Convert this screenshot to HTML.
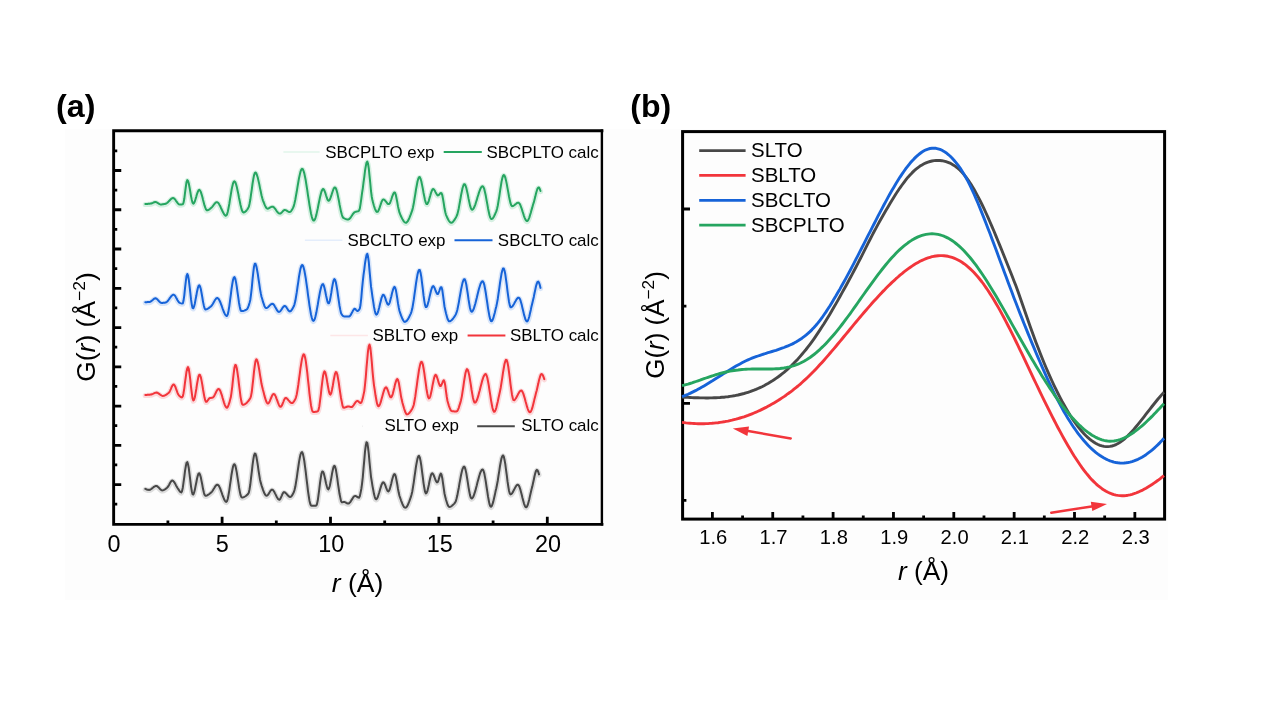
<!DOCTYPE html>
<html><head><meta charset="utf-8"><title>Figure</title>
<style>html,body{margin:0;padding:0;background:#fff;}svg{display:block;}</style></head>
<body>
<svg width="1269" height="714" viewBox="0 0 1269 714" font-family="Liberation Sans, Arial, sans-serif">
<rect width="1269" height="714" fill="#ffffff"/>
<rect x="65" y="129" width="1103" height="471" fill="#fdfdfd"/>
<path d="M145.3 203.9L146.0 203.9L146.8 203.9L147.5 203.9L148.3 203.8L149.0 203.8L149.8 203.7L150.5 203.6L151.3 203.5L152.0 203.2L152.8 202.9L153.5 202.5L154.3 202.2L155.0 202.0L155.8 202.0L156.5 202.3L157.3 202.7L158.0 203.2L158.8 203.7L159.5 204.1L160.3 204.4L161.0 204.4L161.8 204.4L162.5 204.3L163.3 204.2L164.0 204.1L164.8 204.0L165.5 203.8L166.3 203.5L167.0 203.0L167.8 202.4L168.5 201.6L169.3 200.8L170.0 200.0L170.8 199.2L171.5 198.6L172.3 198.2L173.0 198.0L173.8 198.2L174.5 198.8L175.3 199.7L176.0 200.8L176.8 201.9L177.5 202.9L178.3 203.8L179.0 204.4L179.8 204.6L180.5 204.6L181.3 204.5L182.0 204.4L182.8 204.2L183.5 202.9L184.3 198.8L185.0 193.0L185.8 187.0L186.5 182.2L187.3 180.1L188.0 180.9L188.8 183.5L189.5 187.3L190.3 191.7L191.0 196.1L191.8 199.9L192.5 202.6L193.3 203.6L194.0 203.1L194.8 201.5L195.5 199.2L196.3 196.6L197.0 194.1L197.8 191.9L198.5 190.3L199.3 189.8L200.0 190.4L200.8 191.9L201.5 194.1L202.3 196.8L203.0 199.7L203.8 202.7L204.5 205.4L205.3 207.7L206.0 209.4L206.8 210.3L207.5 210.3L208.3 210.0L209.0 209.6L209.8 209.0L210.5 208.4L211.3 207.8L212.0 207.1L212.8 206.2L213.5 205.2L214.3 204.2L215.0 203.3L215.8 202.6L216.5 202.2L217.3 202.2L218.0 202.7L218.8 203.6L219.5 204.9L220.3 206.3L221.0 208.0L221.8 209.7L222.5 211.3L223.3 212.8L224.0 214.1L224.8 215.1L225.5 215.7L226.3 215.6L227.0 214.4L227.8 211.8L228.5 208.2L229.3 204.0L230.0 199.4L230.8 194.7L231.5 190.3L232.3 186.4L233.0 183.5L233.8 181.7L234.5 181.3L235.3 182.2L236.0 184.1L236.8 186.9L237.5 190.2L238.3 193.9L239.0 197.7L239.8 201.5L240.5 205.0L241.3 208.1L242.0 210.5L242.8 212.0L243.5 212.5L244.3 212.3L245.0 211.9L245.8 211.3L246.5 210.5L247.3 209.5L248.0 208.4L248.8 206.9L249.5 204.0L250.3 199.8L251.0 194.7L251.8 189.3L252.5 184.0L253.3 179.2L254.0 175.4L254.8 173.1L255.5 172.5L256.3 173.3L257.0 175.2L257.8 177.8L258.5 180.9L259.3 184.4L260.0 188.1L260.8 191.8L261.5 195.2L262.3 198.2L263.0 200.6L263.8 202.5L264.5 204.4L265.3 206.1L266.0 207.5L266.8 208.4L267.5 208.7L268.3 208.6L269.0 208.2L269.8 207.7L270.5 207.3L271.3 206.9L272.0 206.7L272.8 206.7L273.5 207.1L274.3 207.8L275.0 208.7L275.8 209.7L276.5 210.8L277.3 211.8L278.0 212.7L278.8 213.3L279.5 213.6L280.3 213.6L281.0 213.1L281.8 212.4L282.5 211.6L283.3 210.8L284.0 210.2L284.8 209.9L285.5 210.1L286.3 210.4L287.0 210.8L287.8 211.3L288.5 211.7L289.3 212.0L290.0 212.0L290.8 211.5L291.5 210.5L292.3 209.3L293.0 207.9L293.8 206.0L294.5 203.3L295.3 199.7L296.0 195.7L296.8 191.3L297.5 186.8L298.3 182.3L299.0 178.2L299.8 174.6L300.5 171.7L301.3 169.7L302.0 168.8L302.8 169.2L303.5 170.8L304.3 173.4L305.0 176.8L305.8 180.8L306.5 185.4L307.3 190.3L308.0 195.3L308.8 200.3L309.5 205.1L310.3 209.6L311.0 213.5L311.8 216.8L312.5 219.1L313.3 220.5L314.0 220.6L314.8 219.7L315.5 217.8L316.3 215.1L317.0 211.9L317.8 208.3L318.5 204.5L319.3 200.8L320.0 197.2L320.8 194.1L321.5 191.5L322.3 189.8L323.0 189.0L323.8 189.4L324.5 190.8L325.3 192.9L326.0 195.3L326.8 197.7L327.5 199.6L328.3 200.7L329.0 200.7L329.8 199.7L330.5 197.9L331.3 195.7L332.0 193.3L332.8 191.0L333.5 189.0L334.3 187.7L335.0 187.4L335.8 188.2L336.5 190.1L337.3 192.9L338.0 196.4L338.8 200.2L339.5 204.2L340.3 208.1L341.0 211.6L341.8 214.5L342.5 216.7L343.3 217.8L344.0 218.2L344.8 218.6L345.5 218.9L346.3 219.2L347.0 219.4L347.8 219.5L348.5 219.4L349.3 219.0L350.0 218.3L350.8 217.3L351.5 216.2L352.3 215.0L353.0 213.9L353.8 213.0L354.5 212.3L355.3 211.9L356.0 211.7L356.8 211.6L357.5 211.4L358.3 211.2L359.0 210.7L359.8 208.6L360.5 204.3L361.3 198.8L362.0 193.3L362.8 188.3L363.5 182.7L364.3 176.8L365.0 171.0L365.8 166.1L366.5 162.8L367.3 161.6L368.0 163.5L368.8 168.6L369.5 175.6L370.3 183.5L371.0 191.0L371.8 197.0L372.5 200.6L373.3 203.4L374.0 206.0L374.8 208.3L375.5 210.1L376.3 211.4L377.0 211.9L377.8 211.7L378.5 210.5L379.3 208.7L380.0 206.5L380.8 204.2L381.5 202.0L382.3 200.4L383.0 199.5L383.8 199.5L384.5 199.9L385.3 200.8L386.0 201.7L386.8 202.7L387.5 203.6L388.3 204.1L389.0 204.1L389.8 203.3L390.5 201.6L391.3 199.5L392.0 197.2L392.8 195.1L393.5 193.3L394.3 192.4L395.0 192.7L395.8 194.8L396.5 198.2L397.3 202.3L398.0 206.4L398.8 210.1L399.5 212.7L400.3 214.6L401.0 216.3L401.8 217.9L402.5 219.3L403.3 220.6L404.0 221.6L404.8 222.4L405.5 222.7L406.3 222.7L407.0 222.1L407.8 221.2L408.5 219.8L409.3 218.2L410.0 216.4L410.8 214.4L411.5 212.4L412.3 210.2L413.0 207.2L413.8 203.3L414.5 198.9L415.3 194.2L416.0 189.5L416.8 185.2L417.5 181.5L418.3 178.7L419.0 177.2L419.8 177.1L420.5 178.6L421.3 181.2L422.0 184.6L422.8 188.6L423.5 192.7L424.3 196.6L425.0 200.0L425.8 202.6L426.5 204.0L427.3 204.0L428.0 202.8L428.8 200.8L429.5 198.3L430.3 195.6L431.0 193.0L431.8 190.8L432.5 189.4L433.3 189.0L434.0 189.5L434.8 190.7L435.5 192.2L436.3 193.6L437.0 194.8L437.8 195.4L438.5 195.2L439.3 194.5L440.0 193.6L440.8 192.9L441.5 193.1L442.3 195.2L443.0 198.9L443.8 203.6L444.5 208.3L445.3 212.2L446.0 214.8L446.8 216.6L447.5 218.3L448.3 219.8L449.0 221.0L449.8 222.0L450.5 222.6L451.3 222.8L452.0 222.6L452.8 222.0L453.5 221.2L454.3 220.2L455.0 219.0L455.8 217.8L456.5 216.4L457.3 214.5L458.0 211.7L458.8 208.2L459.5 204.1L460.3 199.8L461.0 195.5L461.8 191.6L462.5 188.2L463.3 185.7L464.0 184.3L464.8 184.2L465.5 185.5L466.3 187.9L467.0 191.0L467.8 194.6L468.5 198.4L469.3 202.1L470.0 205.4L470.8 207.9L471.5 209.4L472.3 209.8L473.0 209.3L473.8 208.1L474.5 206.5L475.3 204.6L476.0 202.3L476.8 199.9L477.5 197.3L478.3 194.9L479.0 192.5L479.8 190.4L480.5 188.6L481.3 187.2L482.0 186.4L482.8 186.2L483.5 187.2L484.3 189.2L485.0 192.2L485.8 195.8L486.5 199.9L487.3 204.1L488.0 208.2L488.8 212.0L489.5 215.2L490.3 217.6L491.0 218.9L491.8 219.0L492.5 218.6L493.3 217.6L494.0 216.4L494.8 214.8L495.5 213.2L496.3 211.4L497.0 209.0L497.8 205.5L498.5 201.2L499.3 196.3L500.0 191.3L500.8 186.4L501.5 181.9L502.3 178.3L503.0 175.9L503.8 175.0L504.5 175.6L505.3 177.5L506.0 180.4L506.8 184.1L507.5 188.2L508.3 192.4L509.0 196.5L509.8 200.2L510.5 203.2L511.3 205.3L512.0 206.2L512.8 206.1L513.5 205.8L514.3 205.2L515.0 204.6L515.8 204.0L516.5 203.4L517.3 202.9L518.0 202.7L518.8 202.8L519.5 203.6L520.3 205.0L521.0 206.9L521.8 209.0L522.5 211.4L523.3 213.8L524.0 216.1L524.8 218.1L525.5 219.7L526.3 220.7L527.0 221.1L527.8 220.6L528.5 219.4L529.3 217.6L530.0 215.3L530.8 212.8L531.5 210.1L532.3 207.4L533.0 204.8L533.8 202.4L534.5 199.7L535.3 196.6L536.0 193.5L536.8 190.7L537.5 188.6L538.3 187.5L539.0 187.6L539.8 189.0L540.5 191.0" fill="none" stroke="#d6f0e2" stroke-width="5.2" stroke-linejoin="round" stroke-linecap="round" transform="translate(0,0.6)"/>
<path d="M145.3 203.9L146.0 203.9L146.8 203.9L147.5 203.9L148.3 203.8L149.0 203.8L149.8 203.7L150.5 203.6L151.3 203.5L152.0 203.2L152.8 202.9L153.5 202.5L154.3 202.2L155.0 202.0L155.8 202.0L156.5 202.3L157.3 202.7L158.0 203.2L158.8 203.7L159.5 204.1L160.3 204.4L161.0 204.4L161.8 204.4L162.5 204.3L163.3 204.2L164.0 204.1L164.8 204.0L165.5 203.8L166.3 203.5L167.0 203.0L167.8 202.4L168.5 201.6L169.3 200.8L170.0 200.0L170.8 199.2L171.5 198.6L172.3 198.2L173.0 198.0L173.8 198.2L174.5 198.8L175.3 199.7L176.0 200.8L176.8 201.9L177.5 202.9L178.3 203.8L179.0 204.4L179.8 204.6L180.5 204.6L181.3 204.5L182.0 204.4L182.8 204.2L183.5 202.9L184.3 198.8L185.0 193.0L185.8 187.0L186.5 182.2L187.3 180.1L188.0 180.9L188.8 183.5L189.5 187.3L190.3 191.7L191.0 196.1L191.8 199.9L192.5 202.6L193.3 203.6L194.0 203.1L194.8 201.5L195.5 199.2L196.3 196.6L197.0 194.1L197.8 191.9L198.5 190.3L199.3 189.8L200.0 190.4L200.8 191.9L201.5 194.1L202.3 196.8L203.0 199.7L203.8 202.7L204.5 205.4L205.3 207.7L206.0 209.4L206.8 210.3L207.5 210.3L208.3 210.0L209.0 209.6L209.8 209.0L210.5 208.4L211.3 207.8L212.0 207.1L212.8 206.2L213.5 205.2L214.3 204.2L215.0 203.3L215.8 202.6L216.5 202.2L217.3 202.2L218.0 202.7L218.8 203.6L219.5 204.9L220.3 206.3L221.0 208.0L221.8 209.7L222.5 211.3L223.3 212.8L224.0 214.1L224.8 215.1L225.5 215.7L226.3 215.6L227.0 214.4L227.8 211.8L228.5 208.2L229.3 204.0L230.0 199.4L230.8 194.7L231.5 190.3L232.3 186.4L233.0 183.5L233.8 181.7L234.5 181.3L235.3 182.2L236.0 184.1L236.8 186.9L237.5 190.2L238.3 193.9L239.0 197.7L239.8 201.5L240.5 205.0L241.3 208.1L242.0 210.5L242.8 212.0L243.5 212.5L244.3 212.3L245.0 211.9L245.8 211.3L246.5 210.5L247.3 209.5L248.0 208.4L248.8 206.9L249.5 204.0L250.3 199.8L251.0 194.7L251.8 189.3L252.5 184.0L253.3 179.2L254.0 175.4L254.8 173.1L255.5 172.5L256.3 173.3L257.0 175.2L257.8 177.8L258.5 180.9L259.3 184.4L260.0 188.1L260.8 191.8L261.5 195.2L262.3 198.2L263.0 200.6L263.8 202.5L264.5 204.4L265.3 206.1L266.0 207.5L266.8 208.4L267.5 208.7L268.3 208.6L269.0 208.2L269.8 207.7L270.5 207.3L271.3 206.9L272.0 206.7L272.8 206.7L273.5 207.1L274.3 207.8L275.0 208.7L275.8 209.7L276.5 210.8L277.3 211.8L278.0 212.7L278.8 213.3L279.5 213.6L280.3 213.6L281.0 213.1L281.8 212.4L282.5 211.6L283.3 210.8L284.0 210.2L284.8 209.9L285.5 210.1L286.3 210.4L287.0 210.8L287.8 211.3L288.5 211.7L289.3 212.0L290.0 212.0L290.8 211.5L291.5 210.5L292.3 209.3L293.0 207.9L293.8 206.0L294.5 203.3L295.3 199.7L296.0 195.7L296.8 191.3L297.5 186.8L298.3 182.3L299.0 178.2L299.8 174.6L300.5 171.7L301.3 169.7L302.0 168.8L302.8 169.2L303.5 170.8L304.3 173.4L305.0 176.8L305.8 180.8L306.5 185.4L307.3 190.3L308.0 195.3L308.8 200.3L309.5 205.1L310.3 209.6L311.0 213.5L311.8 216.8L312.5 219.1L313.3 220.5L314.0 220.6L314.8 219.7L315.5 217.8L316.3 215.1L317.0 211.9L317.8 208.3L318.5 204.5L319.3 200.8L320.0 197.2L320.8 194.1L321.5 191.5L322.3 189.8L323.0 189.0L323.8 189.4L324.5 190.8L325.3 192.9L326.0 195.3L326.8 197.7L327.5 199.6L328.3 200.7L329.0 200.7L329.8 199.7L330.5 197.9L331.3 195.7L332.0 193.3L332.8 191.0L333.5 189.0L334.3 187.7L335.0 187.4L335.8 188.2L336.5 190.1L337.3 192.9L338.0 196.4L338.8 200.2L339.5 204.2L340.3 208.1L341.0 211.6L341.8 214.5L342.5 216.7L343.3 217.8L344.0 218.2L344.8 218.6L345.5 218.9L346.3 219.2L347.0 219.4L347.8 219.5L348.5 219.4L349.3 219.0L350.0 218.3L350.8 217.3L351.5 216.2L352.3 215.0L353.0 213.9L353.8 213.0L354.5 212.3L355.3 211.9L356.0 211.7L356.8 211.6L357.5 211.4L358.3 211.2L359.0 210.7L359.8 208.6L360.5 204.3L361.3 198.8L362.0 193.3L362.8 188.3L363.5 182.7L364.3 176.8L365.0 171.0L365.8 166.1L366.5 162.8L367.3 161.6L368.0 163.5L368.8 168.6L369.5 175.6L370.3 183.5L371.0 191.0L371.8 197.0L372.5 200.6L373.3 203.4L374.0 206.0L374.8 208.3L375.5 210.1L376.3 211.4L377.0 211.9L377.8 211.7L378.5 210.5L379.3 208.7L380.0 206.5L380.8 204.2L381.5 202.0L382.3 200.4L383.0 199.5L383.8 199.5L384.5 199.9L385.3 200.8L386.0 201.7L386.8 202.7L387.5 203.6L388.3 204.1L389.0 204.1L389.8 203.3L390.5 201.6L391.3 199.5L392.0 197.2L392.8 195.1L393.5 193.3L394.3 192.4L395.0 192.7L395.8 194.8L396.5 198.2L397.3 202.3L398.0 206.4L398.8 210.1L399.5 212.7L400.3 214.6L401.0 216.3L401.8 217.9L402.5 219.3L403.3 220.6L404.0 221.6L404.8 222.4L405.5 222.7L406.3 222.7L407.0 222.1L407.8 221.2L408.5 219.8L409.3 218.2L410.0 216.4L410.8 214.4L411.5 212.4L412.3 210.2L413.0 207.2L413.8 203.3L414.5 198.9L415.3 194.2L416.0 189.5L416.8 185.2L417.5 181.5L418.3 178.7L419.0 177.2L419.8 177.1L420.5 178.6L421.3 181.2L422.0 184.6L422.8 188.6L423.5 192.7L424.3 196.6L425.0 200.0L425.8 202.6L426.5 204.0L427.3 204.0L428.0 202.8L428.8 200.8L429.5 198.3L430.3 195.6L431.0 193.0L431.8 190.8L432.5 189.4L433.3 189.0L434.0 189.5L434.8 190.7L435.5 192.2L436.3 193.6L437.0 194.8L437.8 195.4L438.5 195.2L439.3 194.5L440.0 193.6L440.8 192.9L441.5 193.1L442.3 195.2L443.0 198.9L443.8 203.6L444.5 208.3L445.3 212.2L446.0 214.8L446.8 216.6L447.5 218.3L448.3 219.8L449.0 221.0L449.8 222.0L450.5 222.6L451.3 222.8L452.0 222.6L452.8 222.0L453.5 221.2L454.3 220.2L455.0 219.0L455.8 217.8L456.5 216.4L457.3 214.5L458.0 211.7L458.8 208.2L459.5 204.1L460.3 199.8L461.0 195.5L461.8 191.6L462.5 188.2L463.3 185.7L464.0 184.3L464.8 184.2L465.5 185.5L466.3 187.9L467.0 191.0L467.8 194.6L468.5 198.4L469.3 202.1L470.0 205.4L470.8 207.9L471.5 209.4L472.3 209.8L473.0 209.3L473.8 208.1L474.5 206.5L475.3 204.6L476.0 202.3L476.8 199.9L477.5 197.3L478.3 194.9L479.0 192.5L479.8 190.4L480.5 188.6L481.3 187.2L482.0 186.4L482.8 186.2L483.5 187.2L484.3 189.2L485.0 192.2L485.8 195.8L486.5 199.9L487.3 204.1L488.0 208.2L488.8 212.0L489.5 215.2L490.3 217.6L491.0 218.9L491.8 219.0L492.5 218.6L493.3 217.6L494.0 216.4L494.8 214.8L495.5 213.2L496.3 211.4L497.0 209.0L497.8 205.5L498.5 201.2L499.3 196.3L500.0 191.3L500.8 186.4L501.5 181.9L502.3 178.3L503.0 175.9L503.8 175.0L504.5 175.6L505.3 177.5L506.0 180.4L506.8 184.1L507.5 188.2L508.3 192.4L509.0 196.5L509.8 200.2L510.5 203.2L511.3 205.3L512.0 206.2L512.8 206.1L513.5 205.8L514.3 205.2L515.0 204.6L515.8 204.0L516.5 203.4L517.3 202.9L518.0 202.7L518.8 202.8L519.5 203.6L520.3 205.0L521.0 206.9L521.8 209.0L522.5 211.4L523.3 213.8L524.0 216.1L524.8 218.1L525.5 219.7L526.3 220.7L527.0 221.1L527.8 220.6L528.5 219.4L529.3 217.6L530.0 215.3L530.8 212.8L531.5 210.1L532.3 207.4L533.0 204.8L533.8 202.4L534.5 199.7L535.3 196.6L536.0 193.5L536.8 190.7L537.5 188.6L538.3 187.5L539.0 187.6L539.8 189.0L540.5 191.0" fill="none" stroke="#26a560" stroke-width="2" stroke-linejoin="round" stroke-linecap="round"/>
<path d="M145.3 302.2L146.0 302.2L146.8 302.2L147.5 302.1L148.3 302.1L149.0 302.0L149.8 301.9L150.5 301.7L151.3 301.2L152.0 300.6L152.8 299.9L153.5 299.2L154.3 298.6L155.0 298.3L155.8 298.3L156.5 298.7L157.3 299.3L158.0 300.1L158.8 301.0L159.5 301.7L160.3 302.4L161.0 302.8L161.8 302.9L162.5 302.9L163.3 302.8L164.0 302.7L164.8 302.7L165.5 302.6L166.3 302.3L167.0 301.8L167.8 301.0L168.5 300.0L169.3 298.9L170.0 297.8L170.8 296.8L171.5 295.9L172.3 295.2L173.0 294.7L173.8 294.7L174.5 295.2L175.3 296.1L176.0 297.4L176.8 298.8L177.5 300.2L178.3 301.4L179.0 302.3L179.8 302.8L180.5 303.1L181.3 303.4L182.0 303.6L182.8 303.4L183.5 300.8L184.3 295.3L185.0 288.3L185.8 281.5L186.5 276.2L187.3 274.0L188.0 275.4L188.8 279.7L189.5 285.7L190.3 292.6L191.0 299.2L191.8 304.6L192.5 307.9L193.3 308.3L194.0 306.7L194.8 303.7L195.5 299.9L196.3 295.8L197.0 291.7L197.8 288.3L198.5 286.0L199.3 285.2L200.0 286.3L200.8 289.0L201.5 292.8L202.3 297.2L203.0 301.6L203.8 305.4L204.5 308.1L205.3 309.4L206.0 309.4L206.8 309.2L207.5 308.8L208.3 308.4L209.0 307.9L209.8 307.3L210.5 306.7L211.3 306.1L212.0 305.2L212.8 304.0L213.5 302.7L214.3 301.3L215.0 300.0L215.8 299.0L216.5 298.2L217.3 298.0L218.0 298.3L218.8 299.2L219.5 300.5L220.3 302.2L221.0 304.1L221.8 306.2L222.5 308.3L223.3 310.4L224.0 312.3L224.8 313.9L225.5 315.1L226.3 315.9L227.0 315.9L227.8 314.3L228.5 311.0L229.3 306.3L230.0 300.8L230.8 294.9L231.5 289.2L232.3 284.0L233.0 280.0L233.8 277.5L234.5 277.1L235.3 278.7L236.0 282.1L236.8 286.8L237.5 292.1L238.3 297.6L239.0 302.7L239.8 307.0L240.5 309.9L241.3 311.1L242.0 311.1L242.8 311.0L243.5 310.9L244.3 310.6L245.0 310.3L245.8 310.0L246.5 309.6L247.3 308.9L248.0 307.5L248.8 305.4L249.5 303.0L250.3 299.9L251.0 294.7L251.8 287.6L252.5 279.8L253.3 272.4L254.0 266.7L254.8 263.7L255.5 263.8L256.3 266.0L257.0 269.5L257.8 274.0L258.5 279.0L259.3 284.2L260.0 289.1L260.8 293.4L261.5 296.7L262.3 299.3L263.0 301.9L263.8 304.2L264.5 306.2L265.3 307.5L266.0 308.1L266.8 308.0L267.5 307.6L268.3 306.9L269.0 306.2L269.8 305.4L270.5 304.7L271.3 304.1L272.0 303.8L272.8 303.9L273.5 304.4L274.3 305.4L275.0 306.7L275.8 308.0L276.5 309.4L277.3 310.6L278.0 311.5L278.8 311.9L279.5 311.8L280.3 311.2L281.0 310.2L281.8 309.1L282.5 307.9L283.3 306.9L284.0 306.2L284.8 305.9L285.5 306.3L286.3 307.1L287.0 308.3L287.8 309.5L288.5 310.6L289.3 311.3L290.0 311.4L290.8 311.0L291.5 310.2L292.3 309.1L293.0 307.8L293.8 306.3L294.5 304.3L295.3 301.1L296.0 297.0L296.8 292.2L297.5 287.0L298.3 281.8L299.0 276.7L299.8 272.3L300.5 268.6L301.3 266.1L302.0 265.0L302.8 265.4L303.5 267.2L304.3 270.2L305.0 274.0L305.8 278.6L306.5 283.7L307.3 289.2L308.0 294.8L308.8 300.3L309.5 305.6L310.3 310.4L311.0 314.5L311.8 317.8L312.5 320.0L313.3 320.9L314.0 320.5L314.8 318.9L315.5 316.2L316.3 312.8L317.0 308.8L317.8 304.5L318.5 300.1L319.3 295.8L320.0 291.9L320.8 288.5L321.5 285.9L322.3 284.4L323.0 284.1L323.8 285.4L324.5 288.0L325.3 291.5L326.0 295.2L326.8 298.8L327.5 301.7L328.3 303.3L329.0 303.2L329.8 301.0L330.5 297.4L331.3 292.9L332.0 288.2L332.8 283.9L333.5 280.7L334.3 279.1L335.0 279.7L335.8 282.0L336.5 285.7L337.3 290.4L338.0 295.5L338.8 300.8L339.5 305.7L340.3 309.9L341.0 313.0L341.8 314.6L342.5 315.5L343.3 316.1L344.0 316.4L344.8 316.5L345.5 316.5L346.3 316.5L347.0 316.5L347.8 316.5L348.5 316.5L349.3 316.4L350.0 315.9L350.8 314.8L351.5 313.5L352.3 312.0L353.0 310.6L353.8 309.5L354.5 308.8L355.3 308.9L356.0 309.8L356.8 310.7L357.5 311.1L358.3 310.7L359.0 309.9L359.8 308.6L360.5 305.0L361.3 298.0L362.0 289.4L362.8 281.4L363.5 275.2L364.3 269.3L365.0 263.5L365.8 258.6L366.5 255.1L367.3 253.9L368.0 256.3L368.8 262.2L369.5 270.3L370.3 278.9L371.0 286.4L371.8 292.0L372.5 297.1L373.3 302.2L374.0 306.9L374.8 310.7L375.5 313.4L376.3 314.6L377.0 314.2L377.8 312.6L378.5 310.2L379.3 307.2L380.0 304.0L380.8 300.9L381.5 298.1L382.3 296.0L383.0 294.8L383.8 294.9L384.5 296.2L385.3 298.1L386.0 300.4L386.8 302.5L387.5 304.1L388.3 304.7L389.0 304.1L389.8 302.3L390.5 299.6L391.3 296.5L392.0 293.3L392.8 290.4L393.5 288.2L394.3 286.9L395.0 287.3L395.8 289.7L396.5 293.7L397.3 298.5L398.0 303.4L398.8 307.8L399.5 311.0L400.3 313.3L401.0 315.4L401.8 317.4L402.5 319.1L403.3 320.5L404.0 321.5L404.8 321.9L405.5 321.7L406.3 321.2L407.0 320.5L407.8 319.4L408.5 318.2L409.3 316.8L410.0 315.2L410.8 313.6L411.5 311.6L412.3 308.6L413.0 304.5L413.8 299.7L414.5 294.3L415.3 288.9L416.0 283.5L416.8 278.7L417.5 274.6L418.3 271.5L419.0 269.9L419.8 270.0L420.5 272.5L421.3 276.9L422.0 282.6L422.8 288.9L423.5 295.2L424.3 300.8L425.0 304.9L425.8 307.1L426.5 307.1L427.3 305.7L428.0 303.3L428.8 300.4L429.5 297.1L430.3 293.7L431.0 290.7L431.8 288.2L432.5 286.6L433.3 286.1L434.0 286.9L434.8 288.5L435.5 290.5L436.3 292.4L437.0 293.8L437.8 294.1L438.5 293.0L439.3 291.0L440.0 288.8L440.8 287.2L441.5 287.2L442.3 290.1L443.0 295.2L443.8 301.2L444.5 306.5L445.3 310.3L446.0 313.3L446.8 316.2L447.5 318.7L448.3 320.4L449.0 321.3L449.8 321.3L450.5 321.0L451.3 320.5L452.0 319.8L452.8 319.0L453.5 318.0L454.3 316.9L455.0 315.7L455.8 314.5L456.5 312.7L457.3 310.0L458.0 306.6L458.8 302.6L459.5 298.4L460.3 294.0L461.0 289.9L461.8 286.1L462.5 282.9L463.3 280.5L464.0 279.2L464.8 279.3L465.5 281.2L466.3 284.5L467.0 289.0L467.8 294.0L468.5 299.2L469.3 304.0L470.0 308.0L470.8 310.8L471.5 311.8L472.3 311.5L473.0 310.4L473.8 308.7L474.5 306.4L475.3 303.8L476.0 300.9L476.8 297.8L477.5 294.7L478.3 291.6L479.0 288.7L479.8 286.2L480.5 284.0L481.3 282.4L482.0 281.4L482.8 281.2L483.5 282.4L484.3 284.9L485.0 288.5L485.8 293.0L486.5 297.9L487.3 303.0L488.0 308.1L488.8 312.7L489.5 316.6L490.3 319.5L491.0 321.1L491.8 321.2L492.5 320.1L493.3 318.2L494.0 315.6L494.8 312.7L495.5 309.6L496.3 306.5L497.0 303.1L497.8 298.7L498.5 293.7L499.3 288.4L500.0 283.0L500.8 278.1L501.5 273.8L502.3 270.5L503.0 268.6L503.8 268.5L504.5 270.5L505.3 274.3L506.0 279.3L506.8 285.1L507.5 291.1L508.3 296.8L509.0 301.7L509.8 305.4L510.5 307.2L511.3 307.3L512.0 306.8L512.8 305.9L513.5 304.7L514.3 303.4L515.0 302.0L515.8 300.7L516.5 299.4L517.3 298.5L518.0 297.8L518.8 297.7L519.5 298.3L520.3 299.9L521.0 302.2L521.8 305.1L522.5 308.2L523.3 311.5L524.0 314.6L524.8 317.3L525.5 319.6L526.3 321.0L527.0 321.5L527.8 320.8L528.5 319.0L529.3 316.5L530.0 313.3L530.8 309.9L531.5 306.4L532.3 303.2L533.0 300.2L533.8 296.9L534.5 293.3L535.3 289.6L536.0 286.3L536.8 283.6L537.5 281.9L538.3 281.6L539.0 282.7L539.8 285.0L540.5 287.9" fill="none" stroke="#d8e5f9" stroke-width="5.2" stroke-linejoin="round" stroke-linecap="round" transform="translate(0,0.6)"/>
<path d="M145.3 302.2L146.0 302.2L146.8 302.2L147.5 302.1L148.3 302.1L149.0 302.0L149.8 301.9L150.5 301.7L151.3 301.2L152.0 300.6L152.8 299.9L153.5 299.2L154.3 298.6L155.0 298.3L155.8 298.3L156.5 298.7L157.3 299.3L158.0 300.1L158.8 301.0L159.5 301.7L160.3 302.4L161.0 302.8L161.8 302.9L162.5 302.9L163.3 302.8L164.0 302.7L164.8 302.7L165.5 302.6L166.3 302.3L167.0 301.8L167.8 301.0L168.5 300.0L169.3 298.9L170.0 297.8L170.8 296.8L171.5 295.9L172.3 295.2L173.0 294.7L173.8 294.7L174.5 295.2L175.3 296.1L176.0 297.4L176.8 298.8L177.5 300.2L178.3 301.4L179.0 302.3L179.8 302.8L180.5 303.1L181.3 303.4L182.0 303.6L182.8 303.4L183.5 300.8L184.3 295.3L185.0 288.3L185.8 281.5L186.5 276.2L187.3 274.0L188.0 275.4L188.8 279.7L189.5 285.7L190.3 292.6L191.0 299.2L191.8 304.6L192.5 307.9L193.3 308.3L194.0 306.7L194.8 303.7L195.5 299.9L196.3 295.8L197.0 291.7L197.8 288.3L198.5 286.0L199.3 285.2L200.0 286.3L200.8 289.0L201.5 292.8L202.3 297.2L203.0 301.6L203.8 305.4L204.5 308.1L205.3 309.4L206.0 309.4L206.8 309.2L207.5 308.8L208.3 308.4L209.0 307.9L209.8 307.3L210.5 306.7L211.3 306.1L212.0 305.2L212.8 304.0L213.5 302.7L214.3 301.3L215.0 300.0L215.8 299.0L216.5 298.2L217.3 298.0L218.0 298.3L218.8 299.2L219.5 300.5L220.3 302.2L221.0 304.1L221.8 306.2L222.5 308.3L223.3 310.4L224.0 312.3L224.8 313.9L225.5 315.1L226.3 315.9L227.0 315.9L227.8 314.3L228.5 311.0L229.3 306.3L230.0 300.8L230.8 294.9L231.5 289.2L232.3 284.0L233.0 280.0L233.8 277.5L234.5 277.1L235.3 278.7L236.0 282.1L236.8 286.8L237.5 292.1L238.3 297.6L239.0 302.7L239.8 307.0L240.5 309.9L241.3 311.1L242.0 311.1L242.8 311.0L243.5 310.9L244.3 310.6L245.0 310.3L245.8 310.0L246.5 309.6L247.3 308.9L248.0 307.5L248.8 305.4L249.5 303.0L250.3 299.9L251.0 294.7L251.8 287.6L252.5 279.8L253.3 272.4L254.0 266.7L254.8 263.7L255.5 263.8L256.3 266.0L257.0 269.5L257.8 274.0L258.5 279.0L259.3 284.2L260.0 289.1L260.8 293.4L261.5 296.7L262.3 299.3L263.0 301.9L263.8 304.2L264.5 306.2L265.3 307.5L266.0 308.1L266.8 308.0L267.5 307.6L268.3 306.9L269.0 306.2L269.8 305.4L270.5 304.7L271.3 304.1L272.0 303.8L272.8 303.9L273.5 304.4L274.3 305.4L275.0 306.7L275.8 308.0L276.5 309.4L277.3 310.6L278.0 311.5L278.8 311.9L279.5 311.8L280.3 311.2L281.0 310.2L281.8 309.1L282.5 307.9L283.3 306.9L284.0 306.2L284.8 305.9L285.5 306.3L286.3 307.1L287.0 308.3L287.8 309.5L288.5 310.6L289.3 311.3L290.0 311.4L290.8 311.0L291.5 310.2L292.3 309.1L293.0 307.8L293.8 306.3L294.5 304.3L295.3 301.1L296.0 297.0L296.8 292.2L297.5 287.0L298.3 281.8L299.0 276.7L299.8 272.3L300.5 268.6L301.3 266.1L302.0 265.0L302.8 265.4L303.5 267.2L304.3 270.2L305.0 274.0L305.8 278.6L306.5 283.7L307.3 289.2L308.0 294.8L308.8 300.3L309.5 305.6L310.3 310.4L311.0 314.5L311.8 317.8L312.5 320.0L313.3 320.9L314.0 320.5L314.8 318.9L315.5 316.2L316.3 312.8L317.0 308.8L317.8 304.5L318.5 300.1L319.3 295.8L320.0 291.9L320.8 288.5L321.5 285.9L322.3 284.4L323.0 284.1L323.8 285.4L324.5 288.0L325.3 291.5L326.0 295.2L326.8 298.8L327.5 301.7L328.3 303.3L329.0 303.2L329.8 301.0L330.5 297.4L331.3 292.9L332.0 288.2L332.8 283.9L333.5 280.7L334.3 279.1L335.0 279.7L335.8 282.0L336.5 285.7L337.3 290.4L338.0 295.5L338.8 300.8L339.5 305.7L340.3 309.9L341.0 313.0L341.8 314.6L342.5 315.5L343.3 316.1L344.0 316.4L344.8 316.5L345.5 316.5L346.3 316.5L347.0 316.5L347.8 316.5L348.5 316.5L349.3 316.4L350.0 315.9L350.8 314.8L351.5 313.5L352.3 312.0L353.0 310.6L353.8 309.5L354.5 308.8L355.3 308.9L356.0 309.8L356.8 310.7L357.5 311.1L358.3 310.7L359.0 309.9L359.8 308.6L360.5 305.0L361.3 298.0L362.0 289.4L362.8 281.4L363.5 275.2L364.3 269.3L365.0 263.5L365.8 258.6L366.5 255.1L367.3 253.9L368.0 256.3L368.8 262.2L369.5 270.3L370.3 278.9L371.0 286.4L371.8 292.0L372.5 297.1L373.3 302.2L374.0 306.9L374.8 310.7L375.5 313.4L376.3 314.6L377.0 314.2L377.8 312.6L378.5 310.2L379.3 307.2L380.0 304.0L380.8 300.9L381.5 298.1L382.3 296.0L383.0 294.8L383.8 294.9L384.5 296.2L385.3 298.1L386.0 300.4L386.8 302.5L387.5 304.1L388.3 304.7L389.0 304.1L389.8 302.3L390.5 299.6L391.3 296.5L392.0 293.3L392.8 290.4L393.5 288.2L394.3 286.9L395.0 287.3L395.8 289.7L396.5 293.7L397.3 298.5L398.0 303.4L398.8 307.8L399.5 311.0L400.3 313.3L401.0 315.4L401.8 317.4L402.5 319.1L403.3 320.5L404.0 321.5L404.8 321.9L405.5 321.7L406.3 321.2L407.0 320.5L407.8 319.4L408.5 318.2L409.3 316.8L410.0 315.2L410.8 313.6L411.5 311.6L412.3 308.6L413.0 304.5L413.8 299.7L414.5 294.3L415.3 288.9L416.0 283.5L416.8 278.7L417.5 274.6L418.3 271.5L419.0 269.9L419.8 270.0L420.5 272.5L421.3 276.9L422.0 282.6L422.8 288.9L423.5 295.2L424.3 300.8L425.0 304.9L425.8 307.1L426.5 307.1L427.3 305.7L428.0 303.3L428.8 300.4L429.5 297.1L430.3 293.7L431.0 290.7L431.8 288.2L432.5 286.6L433.3 286.1L434.0 286.9L434.8 288.5L435.5 290.5L436.3 292.4L437.0 293.8L437.8 294.1L438.5 293.0L439.3 291.0L440.0 288.8L440.8 287.2L441.5 287.2L442.3 290.1L443.0 295.2L443.8 301.2L444.5 306.5L445.3 310.3L446.0 313.3L446.8 316.2L447.5 318.7L448.3 320.4L449.0 321.3L449.8 321.3L450.5 321.0L451.3 320.5L452.0 319.8L452.8 319.0L453.5 318.0L454.3 316.9L455.0 315.7L455.8 314.5L456.5 312.7L457.3 310.0L458.0 306.6L458.8 302.6L459.5 298.4L460.3 294.0L461.0 289.9L461.8 286.1L462.5 282.9L463.3 280.5L464.0 279.2L464.8 279.3L465.5 281.2L466.3 284.5L467.0 289.0L467.8 294.0L468.5 299.2L469.3 304.0L470.0 308.0L470.8 310.8L471.5 311.8L472.3 311.5L473.0 310.4L473.8 308.7L474.5 306.4L475.3 303.8L476.0 300.9L476.8 297.8L477.5 294.7L478.3 291.6L479.0 288.7L479.8 286.2L480.5 284.0L481.3 282.4L482.0 281.4L482.8 281.2L483.5 282.4L484.3 284.9L485.0 288.5L485.8 293.0L486.5 297.9L487.3 303.0L488.0 308.1L488.8 312.7L489.5 316.6L490.3 319.5L491.0 321.1L491.8 321.2L492.5 320.1L493.3 318.2L494.0 315.6L494.8 312.7L495.5 309.6L496.3 306.5L497.0 303.1L497.8 298.7L498.5 293.7L499.3 288.4L500.0 283.0L500.8 278.1L501.5 273.8L502.3 270.5L503.0 268.6L503.8 268.5L504.5 270.5L505.3 274.3L506.0 279.3L506.8 285.1L507.5 291.1L508.3 296.8L509.0 301.7L509.8 305.4L510.5 307.2L511.3 307.3L512.0 306.8L512.8 305.9L513.5 304.7L514.3 303.4L515.0 302.0L515.8 300.7L516.5 299.4L517.3 298.5L518.0 297.8L518.8 297.7L519.5 298.3L520.3 299.9L521.0 302.2L521.8 305.1L522.5 308.2L523.3 311.5L524.0 314.6L524.8 317.3L525.5 319.6L526.3 321.0L527.0 321.5L527.8 320.8L528.5 319.0L529.3 316.5L530.0 313.3L530.8 309.9L531.5 306.4L532.3 303.2L533.0 300.2L533.8 296.9L534.5 293.3L535.3 289.6L536.0 286.3L536.8 283.6L537.5 281.9L538.3 281.6L539.0 282.7L539.8 285.0L540.5 287.9" fill="none" stroke="#1663d8" stroke-width="2" stroke-linejoin="round" stroke-linecap="round"/>
<path d="M145.3 394.9L146.0 394.9L146.8 394.9L147.5 394.8L148.3 394.8L149.0 394.7L149.8 394.7L150.5 394.6L151.3 394.5L152.0 394.2L152.8 393.9L153.5 393.6L154.3 393.2L155.0 392.9L155.8 392.7L156.5 392.6L157.3 392.7L158.0 393.1L158.8 393.6L159.5 394.1L160.3 394.7L161.0 395.2L161.8 395.6L162.5 395.9L163.3 395.9L164.0 395.7L164.8 395.5L165.5 395.1L166.3 394.6L167.0 394.1L167.8 393.5L168.5 392.9L169.3 392.2L170.0 390.9L170.8 389.1L171.5 387.3L172.3 385.7L173.0 384.7L173.8 384.5L174.5 385.2L175.3 386.7L176.0 388.7L176.8 390.8L177.5 392.9L178.3 394.5L179.0 395.5L179.8 396.2L180.5 396.9L181.3 397.3L182.0 397.4L182.8 396.4L183.5 393.2L184.3 388.3L185.0 382.5L185.8 376.8L186.5 371.7L187.3 368.2L188.0 367.1L188.8 369.0L189.5 373.7L190.3 379.9L191.0 386.8L191.8 393.2L192.5 398.1L193.3 400.5L194.0 400.0L194.8 397.5L195.5 393.6L196.3 389.0L197.0 384.2L197.8 379.9L198.5 376.5L199.3 374.7L200.0 375.0L200.8 377.0L201.5 380.4L202.3 384.6L203.0 389.2L203.8 393.7L204.5 397.6L205.3 400.5L206.0 401.8L206.8 401.7L207.5 400.7L208.3 399.6L209.0 398.6L209.8 398.1L210.5 398.0L211.3 397.9L212.0 397.7L212.8 397.5L213.5 396.9L214.3 395.8L215.0 394.4L215.8 392.7L216.5 391.2L217.3 389.9L218.0 389.1L218.8 388.9L219.5 389.5L220.3 390.9L221.0 392.8L221.8 395.1L222.5 397.6L223.3 400.2L224.0 402.6L224.8 404.8L225.5 406.4L226.3 407.5L227.0 407.7L227.8 406.9L228.5 405.2L229.3 402.9L230.0 400.3L230.8 397.3L231.5 392.7L232.3 386.4L233.0 379.3L233.8 372.7L234.5 367.5L235.3 364.9L236.0 365.4L236.8 368.2L237.5 372.8L238.3 378.4L239.0 384.7L239.8 390.9L240.5 396.6L241.3 401.1L242.0 403.9L242.8 404.8L243.5 404.7L244.3 404.5L245.0 404.1L245.8 403.6L246.5 403.0L247.3 402.2L248.0 401.4L248.8 400.5L249.5 399.4L250.3 398.2L251.0 396.1L251.8 391.8L252.5 385.7L253.3 378.7L254.0 371.6L254.8 365.5L255.5 361.1L256.3 359.3L257.0 360.0L257.8 362.3L258.5 365.8L259.3 370.2L260.0 374.8L260.8 379.5L261.5 383.8L262.3 387.3L263.0 390.1L263.8 393.0L264.5 395.9L265.3 398.6L266.0 400.8L266.8 402.5L267.5 403.5L268.3 403.5L269.0 402.6L269.8 401.2L270.5 399.4L271.3 397.5L272.0 395.8L272.8 394.5L273.5 393.9L274.3 394.1L275.0 395.1L275.8 396.6L276.5 398.6L277.3 400.7L278.0 402.7L278.8 404.6L279.5 406.0L280.3 406.8L281.0 406.7L281.8 405.7L282.5 404.0L283.3 402.0L284.0 400.1L284.8 398.6L285.5 398.0L286.3 398.1L287.0 398.6L287.8 399.4L288.5 400.3L289.3 401.2L290.0 402.0L290.8 402.7L291.5 403.1L292.3 403.1L293.0 402.6L293.8 401.7L294.5 400.5L295.3 399.2L296.0 397.3L296.8 394.2L297.5 390.0L298.3 384.9L299.0 379.4L299.8 373.7L300.5 368.2L301.3 363.1L302.0 358.9L302.8 355.9L303.5 354.3L304.3 354.7L305.0 357.0L305.8 361.1L306.5 366.5L307.3 372.9L308.0 379.8L308.8 386.9L309.5 393.8L310.3 400.1L311.0 405.4L311.8 409.3L312.5 411.5L313.3 411.9L314.0 411.9L314.8 411.9L315.5 411.8L316.3 411.7L317.0 411.6L317.8 411.4L318.5 410.0L319.3 406.5L320.0 401.2L320.8 394.8L321.5 388.1L322.3 381.7L323.0 376.3L323.8 372.6L324.5 371.3L325.3 372.4L326.0 375.3L326.8 379.3L327.5 383.8L328.3 388.2L329.0 391.9L329.8 394.2L330.5 394.6L331.3 393.0L332.0 389.8L332.8 385.7L333.5 381.3L334.3 377.2L335.0 373.9L335.8 372.1L336.5 372.3L337.3 374.5L338.0 378.2L338.8 382.9L339.5 388.1L340.3 393.3L341.0 398.0L341.8 401.9L342.5 405.6L343.3 407.6L344.0 407.7L344.8 407.5L345.5 407.2L346.3 407.0L347.0 406.7L347.8 406.5L348.5 406.5L349.3 406.6L350.0 406.8L350.8 406.9L351.5 407.0L352.3 406.7L353.0 406.0L353.8 405.0L354.5 403.8L355.3 402.7L356.0 401.7L356.8 401.1L357.5 400.9L358.3 401.3L359.0 402.0L359.8 402.7L360.5 403.1L361.3 402.5L362.0 400.8L362.8 398.1L363.5 394.9L364.3 391.1L365.0 385.0L365.8 376.8L366.5 367.7L367.3 358.8L368.0 351.2L368.8 346.1L369.5 344.6L370.3 347.4L371.0 353.7L371.8 362.2L372.5 371.2L373.3 379.3L374.0 385.3L374.8 390.4L375.5 395.3L376.3 399.8L377.0 403.4L377.8 405.7L378.5 406.3L379.3 405.7L380.0 404.1L380.8 401.9L381.5 399.3L382.3 396.4L383.0 393.7L383.8 391.1L384.5 389.1L385.3 387.7L386.0 387.2L386.8 387.9L387.5 389.6L388.3 391.7L389.0 394.0L389.8 396.0L390.5 397.2L391.3 397.3L392.0 396.1L392.8 393.8L393.5 391.0L394.3 387.8L395.0 384.6L395.8 381.9L396.5 379.9L397.3 379.0L398.0 379.9L398.8 382.7L399.5 386.9L400.3 391.6L401.0 396.3L401.8 400.1L402.5 402.9L403.3 405.7L404.0 408.3L404.8 410.7L405.5 412.6L406.3 413.9L407.0 414.4L407.8 414.2L408.5 413.8L409.3 413.1L410.0 412.2L410.8 411.2L411.5 410.0L412.3 408.7L413.0 407.2L413.8 404.7L414.5 401.0L415.3 396.4L416.0 391.2L416.8 385.7L417.5 380.1L418.3 374.8L419.0 370.0L419.8 366.1L420.5 363.2L421.3 361.8L422.0 362.1L422.8 364.3L423.5 368.0L424.3 372.8L425.0 378.1L425.8 383.7L426.5 389.0L427.3 393.5L428.0 396.8L428.8 398.4L429.5 398.1L430.3 396.3L431.0 393.3L431.8 389.6L432.5 385.6L433.3 381.7L434.0 378.4L434.8 375.9L435.5 374.9L436.3 375.4L437.0 377.2L437.8 379.6L438.5 382.2L439.3 384.5L440.0 385.9L440.8 386.0L441.5 384.8L442.3 382.9L443.0 381.1L443.8 380.3L444.5 381.6L445.3 385.8L446.0 391.4L446.8 397.0L447.5 401.0L448.3 403.7L449.0 406.1L449.8 408.2L450.5 409.9L451.3 410.9L452.0 411.2L452.8 411.3L453.5 411.3L454.3 411.4L455.0 411.4L455.8 411.4L456.5 411.4L457.3 411.0L458.0 409.7L458.8 407.8L459.5 405.4L460.3 402.9L461.0 400.2L461.8 396.6L462.5 392.1L463.3 387.0L464.0 381.9L464.8 377.0L465.5 373.0L466.3 370.2L467.0 369.1L467.8 369.9L468.5 372.1L469.3 375.6L470.0 379.9L470.8 384.7L471.5 389.5L472.3 394.1L473.0 398.0L473.8 401.0L474.5 402.5L475.3 402.6L476.0 401.8L476.8 400.3L477.5 398.3L478.3 395.9L479.0 393.1L479.8 390.2L480.5 387.2L481.3 384.2L482.0 381.4L482.8 378.9L483.5 376.8L484.3 375.2L485.0 374.2L485.8 374.1L486.5 375.2L487.3 377.7L488.0 381.3L488.8 385.6L489.5 390.4L490.3 395.3L491.0 400.1L491.8 404.5L492.5 408.0L493.3 410.6L494.0 411.8L494.8 411.5L495.5 410.1L496.3 407.8L497.0 404.8L497.8 401.5L498.5 398.0L499.3 394.6L500.0 391.3L500.8 387.2L501.5 382.6L502.3 377.6L503.0 372.6L503.8 368.0L504.5 364.0L505.3 361.2L506.0 359.8L506.8 360.2L507.5 362.6L508.3 366.8L509.0 372.0L509.8 378.0L510.5 384.1L511.3 389.8L512.0 394.7L512.8 398.3L513.5 400.1L514.3 400.2L515.0 399.5L515.8 398.5L516.5 397.2L517.3 395.8L518.0 394.3L518.8 392.9L519.5 391.7L520.3 390.9L521.0 390.5L521.8 390.8L522.5 391.9L523.3 393.6L524.0 395.9L524.8 398.5L525.5 401.3L526.3 404.1L527.0 406.7L527.8 409.0L528.5 410.8L529.3 412.0L530.0 412.3L530.8 411.7L531.5 410.2L532.3 407.9L533.0 405.2L533.8 402.1L534.5 398.9L535.3 395.9L536.0 393.1L536.8 390.3L537.5 387.0L538.3 383.6L539.0 380.2L539.8 377.4L540.5 375.2L541.3 374.1L542.0 374.2L542.8 375.1L543.5 376.9L544.3 379.1" fill="none" stroke="#fbdadc" stroke-width="5.2" stroke-linejoin="round" stroke-linecap="round" transform="translate(0,0.6)"/>
<path d="M145.3 394.9L146.0 394.9L146.8 394.9L147.5 394.8L148.3 394.8L149.0 394.7L149.8 394.7L150.5 394.6L151.3 394.5L152.0 394.2L152.8 393.9L153.5 393.6L154.3 393.2L155.0 392.9L155.8 392.7L156.5 392.6L157.3 392.7L158.0 393.1L158.8 393.6L159.5 394.1L160.3 394.7L161.0 395.2L161.8 395.6L162.5 395.9L163.3 395.9L164.0 395.7L164.8 395.5L165.5 395.1L166.3 394.6L167.0 394.1L167.8 393.5L168.5 392.9L169.3 392.2L170.0 390.9L170.8 389.1L171.5 387.3L172.3 385.7L173.0 384.7L173.8 384.5L174.5 385.2L175.3 386.7L176.0 388.7L176.8 390.8L177.5 392.9L178.3 394.5L179.0 395.5L179.8 396.2L180.5 396.9L181.3 397.3L182.0 397.4L182.8 396.4L183.5 393.2L184.3 388.3L185.0 382.5L185.8 376.8L186.5 371.7L187.3 368.2L188.0 367.1L188.8 369.0L189.5 373.7L190.3 379.9L191.0 386.8L191.8 393.2L192.5 398.1L193.3 400.5L194.0 400.0L194.8 397.5L195.5 393.6L196.3 389.0L197.0 384.2L197.8 379.9L198.5 376.5L199.3 374.7L200.0 375.0L200.8 377.0L201.5 380.4L202.3 384.6L203.0 389.2L203.8 393.7L204.5 397.6L205.3 400.5L206.0 401.8L206.8 401.7L207.5 400.7L208.3 399.6L209.0 398.6L209.8 398.1L210.5 398.0L211.3 397.9L212.0 397.7L212.8 397.5L213.5 396.9L214.3 395.8L215.0 394.4L215.8 392.7L216.5 391.2L217.3 389.9L218.0 389.1L218.8 388.9L219.5 389.5L220.3 390.9L221.0 392.8L221.8 395.1L222.5 397.6L223.3 400.2L224.0 402.6L224.8 404.8L225.5 406.4L226.3 407.5L227.0 407.7L227.8 406.9L228.5 405.2L229.3 402.9L230.0 400.3L230.8 397.3L231.5 392.7L232.3 386.4L233.0 379.3L233.8 372.7L234.5 367.5L235.3 364.9L236.0 365.4L236.8 368.2L237.5 372.8L238.3 378.4L239.0 384.7L239.8 390.9L240.5 396.6L241.3 401.1L242.0 403.9L242.8 404.8L243.5 404.7L244.3 404.5L245.0 404.1L245.8 403.6L246.5 403.0L247.3 402.2L248.0 401.4L248.8 400.5L249.5 399.4L250.3 398.2L251.0 396.1L251.8 391.8L252.5 385.7L253.3 378.7L254.0 371.6L254.8 365.5L255.5 361.1L256.3 359.3L257.0 360.0L257.8 362.3L258.5 365.8L259.3 370.2L260.0 374.8L260.8 379.5L261.5 383.8L262.3 387.3L263.0 390.1L263.8 393.0L264.5 395.9L265.3 398.6L266.0 400.8L266.8 402.5L267.5 403.5L268.3 403.5L269.0 402.6L269.8 401.2L270.5 399.4L271.3 397.5L272.0 395.8L272.8 394.5L273.5 393.9L274.3 394.1L275.0 395.1L275.8 396.6L276.5 398.6L277.3 400.7L278.0 402.7L278.8 404.6L279.5 406.0L280.3 406.8L281.0 406.7L281.8 405.7L282.5 404.0L283.3 402.0L284.0 400.1L284.8 398.6L285.5 398.0L286.3 398.1L287.0 398.6L287.8 399.4L288.5 400.3L289.3 401.2L290.0 402.0L290.8 402.7L291.5 403.1L292.3 403.1L293.0 402.6L293.8 401.7L294.5 400.5L295.3 399.2L296.0 397.3L296.8 394.2L297.5 390.0L298.3 384.9L299.0 379.4L299.8 373.7L300.5 368.2L301.3 363.1L302.0 358.9L302.8 355.9L303.5 354.3L304.3 354.7L305.0 357.0L305.8 361.1L306.5 366.5L307.3 372.9L308.0 379.8L308.8 386.9L309.5 393.8L310.3 400.1L311.0 405.4L311.8 409.3L312.5 411.5L313.3 411.9L314.0 411.9L314.8 411.9L315.5 411.8L316.3 411.7L317.0 411.6L317.8 411.4L318.5 410.0L319.3 406.5L320.0 401.2L320.8 394.8L321.5 388.1L322.3 381.7L323.0 376.3L323.8 372.6L324.5 371.3L325.3 372.4L326.0 375.3L326.8 379.3L327.5 383.8L328.3 388.2L329.0 391.9L329.8 394.2L330.5 394.6L331.3 393.0L332.0 389.8L332.8 385.7L333.5 381.3L334.3 377.2L335.0 373.9L335.8 372.1L336.5 372.3L337.3 374.5L338.0 378.2L338.8 382.9L339.5 388.1L340.3 393.3L341.0 398.0L341.8 401.9L342.5 405.6L343.3 407.6L344.0 407.7L344.8 407.5L345.5 407.2L346.3 407.0L347.0 406.7L347.8 406.5L348.5 406.5L349.3 406.6L350.0 406.8L350.8 406.9L351.5 407.0L352.3 406.7L353.0 406.0L353.8 405.0L354.5 403.8L355.3 402.7L356.0 401.7L356.8 401.1L357.5 400.9L358.3 401.3L359.0 402.0L359.8 402.7L360.5 403.1L361.3 402.5L362.0 400.8L362.8 398.1L363.5 394.9L364.3 391.1L365.0 385.0L365.8 376.8L366.5 367.7L367.3 358.8L368.0 351.2L368.8 346.1L369.5 344.6L370.3 347.4L371.0 353.7L371.8 362.2L372.5 371.2L373.3 379.3L374.0 385.3L374.8 390.4L375.5 395.3L376.3 399.8L377.0 403.4L377.8 405.7L378.5 406.3L379.3 405.7L380.0 404.1L380.8 401.9L381.5 399.3L382.3 396.4L383.0 393.7L383.8 391.1L384.5 389.1L385.3 387.7L386.0 387.2L386.8 387.9L387.5 389.6L388.3 391.7L389.0 394.0L389.8 396.0L390.5 397.2L391.3 397.3L392.0 396.1L392.8 393.8L393.5 391.0L394.3 387.8L395.0 384.6L395.8 381.9L396.5 379.9L397.3 379.0L398.0 379.9L398.8 382.7L399.5 386.9L400.3 391.6L401.0 396.3L401.8 400.1L402.5 402.9L403.3 405.7L404.0 408.3L404.8 410.7L405.5 412.6L406.3 413.9L407.0 414.4L407.8 414.2L408.5 413.8L409.3 413.1L410.0 412.2L410.8 411.2L411.5 410.0L412.3 408.7L413.0 407.2L413.8 404.7L414.5 401.0L415.3 396.4L416.0 391.2L416.8 385.7L417.5 380.1L418.3 374.8L419.0 370.0L419.8 366.1L420.5 363.2L421.3 361.8L422.0 362.1L422.8 364.3L423.5 368.0L424.3 372.8L425.0 378.1L425.8 383.7L426.5 389.0L427.3 393.5L428.0 396.8L428.8 398.4L429.5 398.1L430.3 396.3L431.0 393.3L431.8 389.6L432.5 385.6L433.3 381.7L434.0 378.4L434.8 375.9L435.5 374.9L436.3 375.4L437.0 377.2L437.8 379.6L438.5 382.2L439.3 384.5L440.0 385.9L440.8 386.0L441.5 384.8L442.3 382.9L443.0 381.1L443.8 380.3L444.5 381.6L445.3 385.8L446.0 391.4L446.8 397.0L447.5 401.0L448.3 403.7L449.0 406.1L449.8 408.2L450.5 409.9L451.3 410.9L452.0 411.2L452.8 411.3L453.5 411.3L454.3 411.4L455.0 411.4L455.8 411.4L456.5 411.4L457.3 411.0L458.0 409.7L458.8 407.8L459.5 405.4L460.3 402.9L461.0 400.2L461.8 396.6L462.5 392.1L463.3 387.0L464.0 381.9L464.8 377.0L465.5 373.0L466.3 370.2L467.0 369.1L467.8 369.9L468.5 372.1L469.3 375.6L470.0 379.9L470.8 384.7L471.5 389.5L472.3 394.1L473.0 398.0L473.8 401.0L474.5 402.5L475.3 402.6L476.0 401.8L476.8 400.3L477.5 398.3L478.3 395.9L479.0 393.1L479.8 390.2L480.5 387.2L481.3 384.2L482.0 381.4L482.8 378.9L483.5 376.8L484.3 375.2L485.0 374.2L485.8 374.1L486.5 375.2L487.3 377.7L488.0 381.3L488.8 385.6L489.5 390.4L490.3 395.3L491.0 400.1L491.8 404.5L492.5 408.0L493.3 410.6L494.0 411.8L494.8 411.5L495.5 410.1L496.3 407.8L497.0 404.8L497.8 401.5L498.5 398.0L499.3 394.6L500.0 391.3L500.8 387.2L501.5 382.6L502.3 377.6L503.0 372.6L503.8 368.0L504.5 364.0L505.3 361.2L506.0 359.8L506.8 360.2L507.5 362.6L508.3 366.8L509.0 372.0L509.8 378.0L510.5 384.1L511.3 389.8L512.0 394.7L512.8 398.3L513.5 400.1L514.3 400.2L515.0 399.5L515.8 398.5L516.5 397.2L517.3 395.8L518.0 394.3L518.8 392.9L519.5 391.7L520.3 390.9L521.0 390.5L521.8 390.8L522.5 391.9L523.3 393.6L524.0 395.9L524.8 398.5L525.5 401.3L526.3 404.1L527.0 406.7L527.8 409.0L528.5 410.8L529.3 412.0L530.0 412.3L530.8 411.7L531.5 410.2L532.3 407.9L533.0 405.2L533.8 402.1L534.5 398.9L535.3 395.9L536.0 393.1L536.8 390.3L537.5 387.0L538.3 383.6L539.0 380.2L539.8 377.4L540.5 375.2L541.3 374.1L542.0 374.2L542.8 375.1L543.5 376.9L544.3 379.1" fill="none" stroke="#f2353b" stroke-width="2" stroke-linejoin="round" stroke-linecap="round"/>
<path d="M145.3 488.8L146.0 489.1L146.8 489.5L147.5 489.7L148.3 489.8L149.0 489.9L149.8 489.8L150.5 489.5L151.3 489.0L152.0 488.4L152.8 487.8L153.5 487.2L154.3 486.7L155.0 486.2L155.8 486.0L156.5 486.0L157.3 486.3L158.0 486.9L158.8 487.6L159.5 488.5L160.3 489.2L161.0 489.9L161.8 490.3L162.5 490.4L163.3 490.2L164.0 489.9L164.8 489.5L165.5 489.0L166.3 488.4L167.0 487.8L167.8 487.0L168.5 485.9L169.3 484.5L170.0 483.0L170.8 481.8L171.5 480.9L172.3 480.5L173.0 480.8L173.8 481.6L174.5 482.6L175.3 483.9L176.0 485.4L176.8 486.7L177.5 488.0L178.3 489.1L179.0 490.2L179.8 491.3L180.5 492.1L181.3 492.4L182.0 491.2L182.8 487.7L183.5 482.7L184.3 476.9L185.0 471.2L185.8 466.3L186.5 463.0L187.3 462.1L188.0 464.1L188.8 468.3L189.5 474.0L190.3 480.3L191.0 486.3L191.8 491.2L192.5 494.1L193.3 494.5L194.0 492.9L194.8 490.1L195.5 486.4L196.3 482.5L197.0 478.7L197.8 475.6L198.5 473.6L199.3 473.3L200.0 474.6L200.8 477.3L201.5 480.9L202.3 484.8L203.0 488.8L203.8 492.2L204.5 494.7L205.3 495.7L206.0 495.8L206.8 495.6L207.5 495.2L208.3 494.7L209.0 494.2L209.8 493.6L210.5 493.0L211.3 492.4L212.0 491.6L212.8 490.5L213.5 489.3L214.3 488.0L215.0 486.8L215.8 485.7L216.5 485.0L217.3 484.7L218.0 484.9L218.8 485.7L219.5 487.1L220.3 488.8L221.0 490.8L221.8 493.0L222.5 495.1L223.3 497.2L224.0 499.0L224.8 500.5L225.5 501.5L226.3 501.9L227.0 501.1L227.8 498.7L228.5 495.0L229.3 490.3L230.0 485.2L230.8 479.8L231.5 474.7L232.3 470.2L233.0 466.7L233.8 464.6L234.5 464.2L235.3 465.6L236.0 468.6L236.8 472.6L237.5 477.4L238.3 482.4L239.0 487.2L239.8 491.6L240.5 494.9L241.3 497.0L242.0 497.5L242.8 497.4L243.5 497.2L244.3 496.9L245.0 496.5L245.8 496.0L246.5 495.4L247.3 494.8L248.0 494.0L248.8 492.7L249.5 489.5L250.3 484.5L251.0 478.3L251.8 471.8L252.5 465.3L253.3 459.7L254.0 455.6L254.8 453.5L255.5 453.9L256.3 456.4L257.0 460.3L257.8 465.1L258.5 470.3L259.3 475.3L260.0 479.7L260.8 482.9L261.5 485.3L262.3 487.6L263.0 489.9L263.8 491.9L264.5 493.6L265.3 494.9L266.0 495.6L266.8 495.8L267.5 495.3L268.3 494.4L269.0 493.2L269.8 491.9L270.5 490.8L271.3 490.0L272.0 489.6L272.8 489.9L273.5 490.7L274.3 491.9L275.0 493.4L275.8 494.9L276.5 496.4L277.3 497.8L278.0 498.9L278.8 499.6L279.5 499.7L280.3 498.9L281.0 497.4L281.8 495.6L282.5 493.9L283.3 492.6L284.0 492.1L284.8 492.3L285.5 492.9L286.3 493.6L287.0 494.5L287.8 495.3L288.5 496.1L289.3 496.7L290.0 497.0L290.8 496.8L291.5 496.2L292.3 495.1L293.0 493.7L293.8 492.2L294.5 490.1L295.3 486.8L296.0 482.5L296.8 477.6L297.5 472.3L298.3 467.0L299.0 462.1L299.8 457.8L300.5 454.5L301.3 452.5L302.0 452.1L302.8 453.5L303.5 456.6L304.3 461.0L305.0 466.3L305.8 472.3L306.5 478.7L307.3 485.0L308.0 491.1L308.8 496.5L309.5 500.9L310.3 504.0L311.0 505.6L311.8 505.8L312.5 505.8L313.3 505.8L314.0 505.8L314.8 505.8L315.5 505.8L316.3 505.6L317.0 504.0L317.8 500.3L318.5 495.1L319.3 489.2L320.0 483.1L320.8 477.6L321.5 473.5L322.3 471.4L323.0 471.6L323.8 473.4L324.5 476.3L325.3 479.7L326.0 483.2L326.8 486.3L327.5 488.5L328.3 489.4L329.0 488.5L329.8 486.0L330.5 482.3L331.3 478.1L332.0 473.8L332.8 470.0L333.5 467.1L334.3 465.8L335.0 466.5L335.8 469.2L336.5 473.3L337.3 478.4L338.0 483.9L338.8 489.2L339.5 493.8L340.3 497.6L341.0 500.9L341.8 502.3L342.5 502.3L343.3 502.1L344.0 502.0L344.8 502.1L345.5 502.4L346.3 502.9L347.0 503.3L347.8 503.6L348.5 503.6L349.3 503.1L350.0 502.4L350.8 501.3L351.5 500.1L352.3 498.9L353.0 497.7L353.8 496.7L354.5 496.1L355.3 495.9L356.0 496.1L356.8 496.6L357.5 497.2L358.3 497.6L359.0 497.7L359.8 496.3L360.5 493.1L361.3 489.0L362.0 484.1L362.8 477.1L363.5 468.6L364.3 459.8L365.0 451.7L365.8 445.5L366.5 442.2L367.3 442.9L368.0 447.2L368.8 454.0L369.5 462.0L370.3 470.0L371.0 476.8L371.8 481.6L372.5 486.1L373.3 490.3L374.0 494.1L374.8 497.1L375.5 498.9L376.3 499.3L377.0 498.6L377.8 497.0L378.5 494.8L379.3 492.3L380.0 489.7L380.8 487.1L381.5 484.9L382.3 483.2L383.0 482.3L383.8 482.4L384.5 483.6L385.3 485.3L386.0 487.4L386.8 489.4L387.5 490.9L388.3 491.4L389.0 490.8L389.8 489.0L390.5 486.4L391.3 483.4L392.0 480.3L392.8 477.5L393.5 475.3L394.3 474.1L395.0 474.4L395.8 476.6L396.5 480.2L397.3 484.5L398.0 489.0L398.8 493.1L399.5 496.0L400.3 498.2L401.0 500.3L401.8 502.3L402.5 504.2L403.3 505.7L404.0 506.9L404.8 507.6L405.5 507.7L406.3 507.3L407.0 506.4L407.8 505.0L408.5 503.3L409.3 501.4L410.0 499.4L410.8 497.2L411.5 494.8L412.3 491.4L413.0 487.1L413.8 482.1L414.5 476.8L415.3 471.4L416.0 466.4L416.8 462.1L417.5 458.6L418.3 456.4L419.0 455.9L419.8 457.4L420.5 460.7L421.3 465.5L422.0 471.1L422.8 477.1L423.5 482.8L424.3 487.8L425.0 491.5L425.8 493.4L426.5 493.2L427.3 491.4L428.0 488.5L428.8 485.0L429.5 481.2L430.3 477.7L431.0 475.0L431.8 473.4L432.5 473.3L433.3 474.3L434.0 476.0L434.8 478.0L435.5 480.0L436.3 481.6L437.0 482.4L437.8 482.0L438.5 480.1L439.3 477.4L440.0 474.9L440.8 473.6L441.5 474.6L442.3 478.2L443.0 483.2L443.8 488.7L444.5 493.5L445.3 496.9L446.0 499.7L446.8 502.2L447.5 504.5L448.3 506.1L449.0 506.8L449.8 506.9L450.5 506.7L451.3 506.3L452.0 505.8L452.8 505.1L453.5 504.4L454.3 503.6L455.0 502.7L455.8 501.2L456.5 498.8L457.3 495.6L458.0 491.8L458.8 487.7L459.5 483.4L460.3 479.2L461.0 475.3L461.8 471.8L462.5 469.1L463.3 467.3L464.0 466.6L464.8 467.3L465.5 469.6L466.3 473.2L467.0 477.5L467.8 482.3L468.5 487.1L469.3 491.5L470.0 495.1L470.8 497.6L471.5 498.5L472.3 498.2L473.0 497.2L473.8 495.5L474.5 493.4L475.3 490.9L476.0 488.2L476.8 485.2L477.5 482.3L478.3 479.4L479.0 476.7L479.8 474.2L480.5 472.2L481.3 470.6L482.0 469.7L482.8 469.6L483.5 470.8L484.3 473.4L485.0 477.1L485.8 481.6L486.5 486.5L487.3 491.6L488.0 496.4L488.8 500.7L489.5 504.1L490.3 506.2L491.0 506.8L491.8 506.0L492.5 504.2L493.3 501.6L494.0 498.5L494.8 495.1L495.5 491.6L496.3 488.3L497.0 484.7L497.8 480.5L498.5 475.7L499.3 470.8L500.0 466.0L500.8 461.7L501.5 458.3L502.3 456.1L503.0 455.4L503.8 456.6L504.5 459.7L505.3 464.1L506.0 469.6L506.8 475.4L507.5 481.2L508.3 486.5L509.0 490.7L509.8 493.5L510.5 494.4L511.3 494.1L512.0 493.3L512.8 492.2L513.5 490.8L514.3 489.3L515.0 487.9L515.8 486.6L516.5 485.5L517.3 484.8L518.0 484.7L518.8 485.4L519.5 487.0L520.3 489.3L521.0 492.0L521.8 495.1L522.5 498.1L523.3 501.1L524.0 503.6L524.8 505.7L525.5 507.0L526.3 507.3L527.0 506.5L527.8 504.8L528.5 502.3L529.3 499.2L530.0 495.9L530.8 492.6L531.5 489.5L532.3 486.6L533.0 483.3L533.8 479.7L534.5 476.2L535.3 473.1L536.0 470.9L536.8 469.9L537.5 470.3L538.3 472.0L539.0 474.4" fill="none" stroke="#dedede" stroke-width="5.2" stroke-linejoin="round" stroke-linecap="round" transform="translate(0,0.6)"/>
<path d="M145.3 488.8L146.0 489.1L146.8 489.5L147.5 489.7L148.3 489.8L149.0 489.9L149.8 489.8L150.5 489.5L151.3 489.0L152.0 488.4L152.8 487.8L153.5 487.2L154.3 486.7L155.0 486.2L155.8 486.0L156.5 486.0L157.3 486.3L158.0 486.9L158.8 487.6L159.5 488.5L160.3 489.2L161.0 489.9L161.8 490.3L162.5 490.4L163.3 490.2L164.0 489.9L164.8 489.5L165.5 489.0L166.3 488.4L167.0 487.8L167.8 487.0L168.5 485.9L169.3 484.5L170.0 483.0L170.8 481.8L171.5 480.9L172.3 480.5L173.0 480.8L173.8 481.6L174.5 482.6L175.3 483.9L176.0 485.4L176.8 486.7L177.5 488.0L178.3 489.1L179.0 490.2L179.8 491.3L180.5 492.1L181.3 492.4L182.0 491.2L182.8 487.7L183.5 482.7L184.3 476.9L185.0 471.2L185.8 466.3L186.5 463.0L187.3 462.1L188.0 464.1L188.8 468.3L189.5 474.0L190.3 480.3L191.0 486.3L191.8 491.2L192.5 494.1L193.3 494.5L194.0 492.9L194.8 490.1L195.5 486.4L196.3 482.5L197.0 478.7L197.8 475.6L198.5 473.6L199.3 473.3L200.0 474.6L200.8 477.3L201.5 480.9L202.3 484.8L203.0 488.8L203.8 492.2L204.5 494.7L205.3 495.7L206.0 495.8L206.8 495.6L207.5 495.2L208.3 494.7L209.0 494.2L209.8 493.6L210.5 493.0L211.3 492.4L212.0 491.6L212.8 490.5L213.5 489.3L214.3 488.0L215.0 486.8L215.8 485.7L216.5 485.0L217.3 484.7L218.0 484.9L218.8 485.7L219.5 487.1L220.3 488.8L221.0 490.8L221.8 493.0L222.5 495.1L223.3 497.2L224.0 499.0L224.8 500.5L225.5 501.5L226.3 501.9L227.0 501.1L227.8 498.7L228.5 495.0L229.3 490.3L230.0 485.2L230.8 479.8L231.5 474.7L232.3 470.2L233.0 466.7L233.8 464.6L234.5 464.2L235.3 465.6L236.0 468.6L236.8 472.6L237.5 477.4L238.3 482.4L239.0 487.2L239.8 491.6L240.5 494.9L241.3 497.0L242.0 497.5L242.8 497.4L243.5 497.2L244.3 496.9L245.0 496.5L245.8 496.0L246.5 495.4L247.3 494.8L248.0 494.0L248.8 492.7L249.5 489.5L250.3 484.5L251.0 478.3L251.8 471.8L252.5 465.3L253.3 459.7L254.0 455.6L254.8 453.5L255.5 453.9L256.3 456.4L257.0 460.3L257.8 465.1L258.5 470.3L259.3 475.3L260.0 479.7L260.8 482.9L261.5 485.3L262.3 487.6L263.0 489.9L263.8 491.9L264.5 493.6L265.3 494.9L266.0 495.6L266.8 495.8L267.5 495.3L268.3 494.4L269.0 493.2L269.8 491.9L270.5 490.8L271.3 490.0L272.0 489.6L272.8 489.9L273.5 490.7L274.3 491.9L275.0 493.4L275.8 494.9L276.5 496.4L277.3 497.8L278.0 498.9L278.8 499.6L279.5 499.7L280.3 498.9L281.0 497.4L281.8 495.6L282.5 493.9L283.3 492.6L284.0 492.1L284.8 492.3L285.5 492.9L286.3 493.6L287.0 494.5L287.8 495.3L288.5 496.1L289.3 496.7L290.0 497.0L290.8 496.8L291.5 496.2L292.3 495.1L293.0 493.7L293.8 492.2L294.5 490.1L295.3 486.8L296.0 482.5L296.8 477.6L297.5 472.3L298.3 467.0L299.0 462.1L299.8 457.8L300.5 454.5L301.3 452.5L302.0 452.1L302.8 453.5L303.5 456.6L304.3 461.0L305.0 466.3L305.8 472.3L306.5 478.7L307.3 485.0L308.0 491.1L308.8 496.5L309.5 500.9L310.3 504.0L311.0 505.6L311.8 505.8L312.5 505.8L313.3 505.8L314.0 505.8L314.8 505.8L315.5 505.8L316.3 505.6L317.0 504.0L317.8 500.3L318.5 495.1L319.3 489.2L320.0 483.1L320.8 477.6L321.5 473.5L322.3 471.4L323.0 471.6L323.8 473.4L324.5 476.3L325.3 479.7L326.0 483.2L326.8 486.3L327.5 488.5L328.3 489.4L329.0 488.5L329.8 486.0L330.5 482.3L331.3 478.1L332.0 473.8L332.8 470.0L333.5 467.1L334.3 465.8L335.0 466.5L335.8 469.2L336.5 473.3L337.3 478.4L338.0 483.9L338.8 489.2L339.5 493.8L340.3 497.6L341.0 500.9L341.8 502.3L342.5 502.3L343.3 502.1L344.0 502.0L344.8 502.1L345.5 502.4L346.3 502.9L347.0 503.3L347.8 503.6L348.5 503.6L349.3 503.1L350.0 502.4L350.8 501.3L351.5 500.1L352.3 498.9L353.0 497.7L353.8 496.7L354.5 496.1L355.3 495.9L356.0 496.1L356.8 496.6L357.5 497.2L358.3 497.6L359.0 497.7L359.8 496.3L360.5 493.1L361.3 489.0L362.0 484.1L362.8 477.1L363.5 468.6L364.3 459.8L365.0 451.7L365.8 445.5L366.5 442.2L367.3 442.9L368.0 447.2L368.8 454.0L369.5 462.0L370.3 470.0L371.0 476.8L371.8 481.6L372.5 486.1L373.3 490.3L374.0 494.1L374.8 497.1L375.5 498.9L376.3 499.3L377.0 498.6L377.8 497.0L378.5 494.8L379.3 492.3L380.0 489.7L380.8 487.1L381.5 484.9L382.3 483.2L383.0 482.3L383.8 482.4L384.5 483.6L385.3 485.3L386.0 487.4L386.8 489.4L387.5 490.9L388.3 491.4L389.0 490.8L389.8 489.0L390.5 486.4L391.3 483.4L392.0 480.3L392.8 477.5L393.5 475.3L394.3 474.1L395.0 474.4L395.8 476.6L396.5 480.2L397.3 484.5L398.0 489.0L398.8 493.1L399.5 496.0L400.3 498.2L401.0 500.3L401.8 502.3L402.5 504.2L403.3 505.7L404.0 506.9L404.8 507.6L405.5 507.7L406.3 507.3L407.0 506.4L407.8 505.0L408.5 503.3L409.3 501.4L410.0 499.4L410.8 497.2L411.5 494.8L412.3 491.4L413.0 487.1L413.8 482.1L414.5 476.8L415.3 471.4L416.0 466.4L416.8 462.1L417.5 458.6L418.3 456.4L419.0 455.9L419.8 457.4L420.5 460.7L421.3 465.5L422.0 471.1L422.8 477.1L423.5 482.8L424.3 487.8L425.0 491.5L425.8 493.4L426.5 493.2L427.3 491.4L428.0 488.5L428.8 485.0L429.5 481.2L430.3 477.7L431.0 475.0L431.8 473.4L432.5 473.3L433.3 474.3L434.0 476.0L434.8 478.0L435.5 480.0L436.3 481.6L437.0 482.4L437.8 482.0L438.5 480.1L439.3 477.4L440.0 474.9L440.8 473.6L441.5 474.6L442.3 478.2L443.0 483.2L443.8 488.7L444.5 493.5L445.3 496.9L446.0 499.7L446.8 502.2L447.5 504.5L448.3 506.1L449.0 506.8L449.8 506.9L450.5 506.7L451.3 506.3L452.0 505.8L452.8 505.1L453.5 504.4L454.3 503.6L455.0 502.7L455.8 501.2L456.5 498.8L457.3 495.6L458.0 491.8L458.8 487.7L459.5 483.4L460.3 479.2L461.0 475.3L461.8 471.8L462.5 469.1L463.3 467.3L464.0 466.6L464.8 467.3L465.5 469.6L466.3 473.2L467.0 477.5L467.8 482.3L468.5 487.1L469.3 491.5L470.0 495.1L470.8 497.6L471.5 498.5L472.3 498.2L473.0 497.2L473.8 495.5L474.5 493.4L475.3 490.9L476.0 488.2L476.8 485.2L477.5 482.3L478.3 479.4L479.0 476.7L479.8 474.2L480.5 472.2L481.3 470.6L482.0 469.7L482.8 469.6L483.5 470.8L484.3 473.4L485.0 477.1L485.8 481.6L486.5 486.5L487.3 491.6L488.0 496.4L488.8 500.7L489.5 504.1L490.3 506.2L491.0 506.8L491.8 506.0L492.5 504.2L493.3 501.6L494.0 498.5L494.8 495.1L495.5 491.6L496.3 488.3L497.0 484.7L497.8 480.5L498.5 475.7L499.3 470.8L500.0 466.0L500.8 461.7L501.5 458.3L502.3 456.1L503.0 455.4L503.8 456.6L504.5 459.7L505.3 464.1L506.0 469.6L506.8 475.4L507.5 481.2L508.3 486.5L509.0 490.7L509.8 493.5L510.5 494.4L511.3 494.1L512.0 493.3L512.8 492.2L513.5 490.8L514.3 489.3L515.0 487.9L515.8 486.6L516.5 485.5L517.3 484.8L518.0 484.7L518.8 485.4L519.5 487.0L520.3 489.3L521.0 492.0L521.8 495.1L522.5 498.1L523.3 501.1L524.0 503.6L524.8 505.7L525.5 507.0L526.3 507.3L527.0 506.5L527.8 504.8L528.5 502.3L529.3 499.2L530.0 495.9L530.8 492.6L531.5 489.5L532.3 486.6L533.0 483.3L533.8 479.7L534.5 476.2L535.3 473.1L536.0 470.9L536.8 469.9L537.5 470.3L538.3 472.0L539.0 474.4" fill="none" stroke="#484848" stroke-width="2" stroke-linejoin="round" stroke-linecap="round"/>
<path d="M113.65 170.50H121.25M113.65 209.76H121.25M113.65 249.02H121.25M113.65 288.28H121.25M113.65 327.54H121.25M113.65 366.80H121.25M113.65 406.06H121.25M113.65 445.32H121.25M113.65 484.58H121.25M113.65 150.87H117.25M113.65 190.13H117.25M113.65 229.39H117.25M113.65 268.65H117.25M113.65 307.91H117.25M113.65 347.17H117.25M113.65 386.43H117.25M113.65 425.69H117.25M113.65 464.95H117.25M113.65 504.21H117.25M222.10 524.4V516.80M330.50 524.4V516.80M438.90 524.4V516.80M547.30 524.4V516.80M167.90 524.4V520.60M276.30 524.4V520.60M384.70 524.4V520.60M493.10 524.4V520.60" stroke="#000" stroke-width="2.8" fill="none"/>
<path d="M601.9 130.8H113.65V524.4H601.9" fill="none" stroke="#000" stroke-width="2.9" stroke-linecap="square"/>
<path d="M601.9 130.8V524.4" fill="none" stroke="#000" stroke-width="2.4" stroke-linecap="square"/>
<text transform="translate(113.9,551.6)" font-size="23.4" text-anchor="middle">0</text>
<text transform="translate(222.3,551.6)" font-size="23.4" text-anchor="middle">5</text>
<text transform="translate(331.3,551.6)" font-size="23.4" text-anchor="middle">10</text>
<text transform="translate(439.7,551.6)" font-size="23.4" text-anchor="middle">15</text>
<text transform="translate(548.1,551.6)" font-size="23.4" text-anchor="middle">20</text>
<text transform="translate(357.6,591.7) scale(1.06,1)" font-size="25" text-anchor="middle"><tspan font-style="italic">r</tspan> (Å)</text>
<text transform="translate(94.5,327) rotate(-90) scale(1.06,1)" font-size="25" text-anchor="middle">G(<tspan font-style="italic">r</tspan>) (Å<tspan font-size="16.5" dy="-10">−2</tspan><tspan dy="10">)</tspan></text>
<text transform="translate(56.0,117.4) scale(1.04,1)" font-size="31" font-weight="bold">(a)</text>
<path d="M283.4 152H319.6" stroke="#e0f4ea" stroke-width="1.4"/>
<path d="M443.7 152H481.8" stroke="#26a560" stroke-width="2"/>
<text transform="translate(325.2,157.8) scale(1.045,1)" font-size="16.2">SBCPLTO exp</text>
<text transform="translate(598.7,157.8) scale(1.045,1)" font-size="16.2" text-anchor="end">SBCPLTO calc</text>
<path d="M304.9 240.3H342.4" stroke="#e4edfb" stroke-width="1.4"/>
<path d="M454.5 240.3H492.5" stroke="#1663d8" stroke-width="2"/>
<text transform="translate(347.4,245.5) scale(1.045,1)" font-size="16.2">SBCLTO exp</text>
<text transform="translate(598.7,245.5) scale(1.045,1)" font-size="16.2" text-anchor="end">SBCLTO calc</text>
<path d="M330.3 335.5H367.9" stroke="#fde6e7" stroke-width="1.4"/>
<path d="M467.6 335.5H505.4" stroke="#f2353b" stroke-width="2"/>
<text transform="translate(372.4,340.8) scale(1.045,1)" font-size="16.2">SBLTO exp</text>
<text transform="translate(598.7,340.8) scale(1.045,1)" font-size="16.2" text-anchor="end">SBLTO calc</text>
<path d="M362 426.3H363" stroke="#f0f0f0" stroke-width="1.4"/>
<path d="M477.2 426.3H514.8" stroke="#484848" stroke-width="2"/>
<text transform="translate(384.4,431.4) scale(1.045,1)" font-size="16.2">SLTO exp</text>
<text transform="translate(598.7,431.4) scale(1.045,1)" font-size="16.2" text-anchor="end">SLTO calc</text>
<clipPath id="cb"><rect x="681.2" y="131.6" width="484.80" height="387.50"/></clipPath>
<path d="M682.6 209H690.00M682.6 403.3H690.00M682.6 306.15H686.40M682.6 500.4H686.40M712.40 519.1V511.90M742.58 519.1V515.50M772.75 519.1V511.90M802.93 519.1V515.50M833.10 519.1V511.90M863.27 519.1V515.50M893.45 519.1V511.90M923.62 519.1V515.50M953.80 519.1V511.90M983.97 519.1V515.50M1014.15 519.1V511.90M1044.32 519.1V515.50M1074.50 519.1V511.90M1104.67 519.1V515.50M1134.85 519.1V511.90" stroke="#000" stroke-width="2.8" fill="none"/>
<rect x="682.6" y="131.6" width="482.00" height="387.50" fill="none" stroke="#000" stroke-width="3"/>
<g clip-path="url(#cb)">
<path d="M682.0 397.1L684.0 397.2L686.0 397.3L688.0 397.4L690.0 397.5L692.0 397.6L694.0 397.7L696.0 397.8L698.0 397.8L700.0 397.9L702.0 397.9L704.0 397.9L706.0 398.0L708.0 398.0L710.0 397.9L712.0 397.9L714.0 397.8L716.0 397.7L718.0 397.6L720.0 397.5L722.0 397.3L724.0 397.2L726.0 396.9L728.0 396.7L730.0 396.4L732.0 396.1L734.0 395.8L736.0 395.4L738.0 395.0L740.0 394.5L742.0 394.0L744.0 393.5L746.0 392.9L748.0 392.3L750.0 391.7L752.0 390.9L754.0 390.2L756.0 389.4L758.0 388.5L760.0 387.6L762.0 386.7L764.0 385.7L766.0 384.6L768.0 383.5L770.0 382.3L772.0 381.1L774.0 379.8L776.0 378.4L778.0 377.0L780.0 375.5L782.0 373.9L784.0 372.3L786.0 370.6L788.0 368.8L790.0 367.0L792.0 365.1L794.0 363.1L796.0 361.0L798.0 358.9L800.0 356.6L802.0 354.3L804.0 351.9L806.0 349.5L808.0 346.9L810.0 344.3L812.0 341.6L814.0 338.8L816.0 335.9L818.0 332.9L820.0 329.9L822.0 326.8L824.0 323.7L826.0 320.4L828.0 317.2L830.0 313.9L832.0 310.5L834.0 307.1L836.0 303.6L838.0 300.1L840.0 296.5L842.0 292.9L844.0 289.3L846.0 285.7L848.0 282.0L850.0 278.3L852.0 274.6L854.0 270.8L856.0 267.0L858.0 263.1L860.0 259.3L862.0 255.3L864.0 251.4L866.0 247.4L868.0 243.4L870.0 239.5L872.0 235.6L874.0 231.8L876.0 228.1L878.0 224.4L880.0 220.8L882.0 217.3L884.0 213.8L886.0 210.3L888.0 206.9L890.0 203.5L892.0 200.2L894.0 197.0L896.0 193.8L898.0 190.8L900.0 187.8L902.0 185.0L904.0 182.3L906.0 179.7L908.0 177.2L910.0 175.0L912.0 172.9L914.0 170.9L916.0 169.2L918.0 167.6L920.0 166.1L922.0 164.9L924.0 163.8L926.0 162.9L928.0 162.1L930.0 161.5L932.0 161.0L934.0 160.6L936.0 160.5L938.0 160.4L940.0 160.5L942.0 160.7L944.0 161.1L946.0 161.6L948.0 162.3L950.0 163.1L952.0 164.2L954.0 165.4L956.0 166.8L958.0 168.4L960.0 170.2L962.0 172.3L964.0 174.6L966.0 177.1L968.0 179.8L970.0 182.8L972.0 185.9L974.0 189.3L976.0 192.9L978.0 196.6L980.0 200.5L982.0 204.5L984.0 208.7L986.0 213.0L988.0 217.4L990.0 222.0L992.0 226.6L994.0 231.3L996.0 236.1L998.0 241.0L1000.0 245.9L1002.0 250.8L1004.0 255.8L1006.0 260.8L1008.0 265.7L1010.0 270.7L1012.0 275.7L1014.0 280.9L1016.0 286.1L1018.0 291.6L1020.0 297.2L1022.0 302.9L1024.0 308.7L1026.0 314.5L1028.0 320.3L1030.0 326.0L1032.0 331.5L1034.0 337.0L1036.0 342.4L1038.0 347.6L1040.0 352.8L1042.0 357.8L1044.0 362.7L1046.0 367.5L1048.0 372.1L1050.0 376.6L1052.0 381.0L1054.0 385.3L1056.0 389.4L1058.0 393.5L1060.0 397.4L1062.0 401.2L1064.0 404.8L1066.0 408.3L1068.0 411.7L1070.0 415.0L1072.0 418.1L1074.0 421.1L1076.0 423.9L1078.0 426.6L1080.0 429.1L1082.0 431.5L1084.0 433.7L1086.0 435.7L1088.0 437.6L1090.0 439.3L1092.0 440.9L1094.0 442.3L1096.0 443.5L1098.0 444.5L1100.0 445.3L1102.0 445.9L1104.0 446.4L1106.0 446.6L1108.0 446.6L1110.0 446.4L1112.0 446.0L1114.0 445.4L1116.0 444.6L1118.0 443.5L1120.0 442.3L1122.0 440.9L1124.0 439.3L1126.0 437.5L1128.0 435.6L1130.0 433.6L1132.0 431.4L1134.0 429.2L1136.0 426.8L1138.0 424.4L1140.0 421.9L1142.0 419.4L1144.0 416.8L1146.0 414.2L1148.0 411.6L1150.0 409.1L1152.0 406.5L1154.0 404.0L1156.0 401.5L1158.0 399.0L1160.0 396.7L1162.0 394.4L1164.0 392.3" fill="none" stroke="#484848" stroke-width="2.9" stroke-linejoin="round"/>
<path d="M682.0 422.4L684.0 422.6L686.0 422.9L688.0 423.1L690.0 423.2L692.0 423.4L694.0 423.5L696.0 423.6L698.0 423.7L700.0 423.7L702.0 423.7L704.0 423.7L706.0 423.6L708.0 423.6L710.0 423.4L712.0 423.3L714.0 423.1L716.0 422.9L718.0 422.7L720.0 422.4L722.0 422.1L724.0 421.8L726.0 421.4L728.0 421.1L730.0 420.6L732.0 420.2L734.0 419.7L736.0 419.2L738.0 418.6L740.0 418.0L742.0 417.4L744.0 416.8L746.0 416.1L748.0 415.4L750.0 414.6L752.0 413.8L754.0 413.0L756.0 412.2L758.0 411.3L760.0 410.4L762.0 409.4L764.0 408.4L766.0 407.4L768.0 406.3L770.0 405.2L772.0 404.1L774.0 402.9L776.0 401.7L778.0 400.5L780.0 399.2L782.0 397.9L784.0 396.6L786.0 395.2L788.0 393.7L790.0 392.3L792.0 390.8L794.0 389.2L796.0 387.6L798.0 386.0L800.0 384.3L802.0 382.5L804.0 380.7L806.0 378.9L808.0 377.0L810.0 375.0L812.0 373.0L814.0 371.0L816.0 368.9L818.0 366.8L820.0 364.6L822.0 362.4L824.0 360.2L826.0 357.9L828.0 355.6L830.0 353.3L832.0 350.9L834.0 348.6L836.0 346.2L838.0 343.8L840.0 341.4L842.0 339.0L844.0 336.5L846.0 334.1L848.0 331.7L850.0 329.3L852.0 326.8L854.0 324.4L856.0 322.0L858.0 319.6L860.0 317.3L862.0 314.9L864.0 312.5L866.0 310.2L868.0 307.9L870.0 305.6L872.0 303.3L874.0 301.1L876.0 298.9L878.0 296.7L880.0 294.6L882.0 292.4L884.0 290.4L886.0 288.3L888.0 286.3L890.0 284.4L892.0 282.4L894.0 280.6L896.0 278.7L898.0 277.0L900.0 275.2L902.0 273.6L904.0 271.9L906.0 270.4L908.0 268.9L910.0 267.5L912.0 266.1L914.0 264.8L916.0 263.6L918.0 262.4L920.0 261.3L922.0 260.4L924.0 259.5L926.0 258.6L928.0 257.9L930.0 257.3L932.0 256.7L934.0 256.3L936.0 256.0L938.0 255.8L940.0 255.6L942.0 255.6L944.0 255.8L946.0 256.0L948.0 256.3L950.0 256.8L952.0 257.4L954.0 258.1L956.0 259.0L958.0 260.0L960.0 261.1L962.0 262.3L964.0 263.7L966.0 265.2L968.0 266.8L970.0 268.6L972.0 270.5L974.0 272.5L976.0 274.7L978.0 277.0L980.0 279.5L982.0 282.0L984.0 284.7L986.0 287.6L988.0 290.5L990.0 293.6L992.0 296.7L994.0 300.0L996.0 303.4L998.0 306.9L1000.0 310.4L1002.0 314.1L1004.0 317.8L1006.0 321.6L1008.0 325.5L1010.0 329.4L1012.0 333.4L1014.0 337.4L1016.0 341.5L1018.0 345.6L1020.0 349.8L1022.0 353.9L1024.0 358.1L1026.0 362.4L1028.0 366.6L1030.0 370.8L1032.0 375.1L1034.0 379.3L1036.0 383.5L1038.0 387.7L1040.0 391.8L1042.0 396.0L1044.0 400.1L1046.0 404.1L1048.0 408.2L1050.0 412.2L1052.0 416.1L1054.0 420.0L1056.0 423.9L1058.0 427.7L1060.0 431.4L1062.0 435.1L1064.0 438.7L1066.0 442.2L1068.0 445.7L1070.0 449.1L1072.0 452.4L1074.0 455.7L1076.0 458.8L1078.0 461.8L1080.0 464.7L1082.0 467.6L1084.0 470.3L1086.0 472.9L1088.0 475.3L1090.0 477.7L1092.0 479.9L1094.0 481.9L1096.0 483.8L1098.0 485.6L1100.0 487.2L1102.0 488.7L1104.0 490.1L1106.0 491.3L1108.0 492.3L1110.0 493.2L1112.0 494.0L1114.0 494.6L1116.0 495.1L1118.0 495.4L1120.0 495.6L1122.0 495.7L1124.0 495.7L1126.0 495.5L1128.0 495.2L1130.0 494.8L1132.0 494.3L1134.0 493.7L1136.0 493.0L1138.0 492.2L1140.0 491.3L1142.0 490.4L1144.0 489.3L1146.0 488.2L1148.0 487.0L1150.0 485.8L1152.0 484.5L1154.0 483.1L1156.0 481.7L1158.0 480.3L1160.0 478.8L1162.0 477.2L1164.0 475.7" fill="none" stroke="#f2353b" stroke-width="2.9" stroke-linejoin="round"/>
<path d="M682.0 396.6L684.0 395.9L686.0 395.1L688.0 394.3L690.0 393.4L692.0 392.4L694.0 391.4L696.0 390.4L698.0 389.3L700.0 388.2L702.0 387.1L704.0 385.9L706.0 384.7L708.0 383.5L710.0 382.3L712.0 381.1L714.0 379.8L716.0 378.5L718.0 377.3L720.0 376.0L722.0 374.7L724.0 373.4L726.0 372.2L728.0 370.9L730.0 369.7L732.0 368.5L734.0 367.3L736.0 366.1L738.0 365.0L740.0 363.9L742.0 362.8L744.0 361.8L746.0 360.8L748.0 359.9L750.0 359.0L752.0 358.2L754.0 357.4L756.0 356.7L758.0 356.0L760.0 355.3L762.0 354.6L764.0 354.0L766.0 353.3L768.0 352.7L770.0 352.1L772.0 351.5L774.0 350.9L776.0 350.3L778.0 349.6L780.0 348.9L782.0 348.2L784.0 347.5L786.0 346.7L788.0 345.9L790.0 345.0L792.0 344.1L794.0 343.1L796.0 342.0L798.0 340.8L800.0 339.5L802.0 338.2L804.0 336.7L806.0 335.1L808.0 333.4L810.0 331.6L812.0 329.6L814.0 327.5L816.0 325.3L818.0 322.9L820.0 320.3L822.0 317.7L824.0 314.8L826.0 311.9L828.0 308.8L830.0 305.7L832.0 302.4L834.0 299.1L836.0 295.8L838.0 292.3L840.0 288.9L842.0 285.3L844.0 281.7L846.0 278.1L848.0 274.4L850.0 270.7L852.0 266.9L854.0 263.1L856.0 259.2L858.0 255.3L860.0 251.4L862.0 247.5L864.0 243.6L866.0 239.7L868.0 235.7L870.0 231.8L872.0 227.9L874.0 224.0L876.0 220.1L878.0 216.2L880.0 212.4L882.0 208.6L884.0 204.8L886.0 201.1L888.0 197.4L890.0 193.8L892.0 190.3L894.0 186.9L896.0 183.5L898.0 180.3L900.0 177.1L902.0 174.1L904.0 171.2L906.0 168.4L908.0 165.8L910.0 163.3L912.0 161.0L914.0 158.9L916.0 156.9L918.0 155.1L920.0 153.5L922.0 152.0L924.0 150.8L926.0 149.8L928.0 149.1L930.0 148.5L932.0 148.2L934.0 148.2L936.0 148.3L938.0 148.8L940.0 149.4L942.0 150.3L944.0 151.4L946.0 152.7L948.0 154.3L950.0 156.0L952.0 158.0L954.0 160.2L956.0 162.6L958.0 165.2L960.0 167.9L962.0 171.0L964.0 174.2L966.0 177.7L968.0 181.4L970.0 185.4L972.0 189.6L974.0 194.0L976.0 198.6L978.0 203.3L980.0 208.1L982.0 213.1L984.0 218.1L986.0 223.2L988.0 228.4L990.0 233.6L992.0 238.9L994.0 244.2L996.0 249.6L998.0 255.0L1000.0 260.4L1002.0 265.8L1004.0 271.2L1006.0 276.6L1008.0 282.0L1010.0 287.3L1012.0 292.6L1014.0 297.9L1016.0 303.1L1018.0 308.3L1020.0 313.4L1022.0 318.4L1024.0 323.5L1026.0 328.4L1028.0 333.4L1030.0 338.3L1032.0 343.1L1034.0 347.9L1036.0 352.7L1038.0 357.4L1040.0 362.0L1042.0 366.6L1044.0 371.2L1046.0 375.7L1048.0 380.1L1050.0 384.4L1052.0 388.7L1054.0 392.8L1056.0 396.8L1058.0 400.7L1060.0 404.4L1062.0 408.1L1064.0 411.7L1066.0 415.1L1068.0 418.4L1070.0 421.6L1072.0 424.7L1074.0 427.7L1076.0 430.5L1078.0 433.3L1080.0 435.9L1082.0 438.4L1084.0 440.8L1086.0 443.0L1088.0 445.2L1090.0 447.2L1092.0 449.1L1094.0 450.9L1096.0 452.6L1098.0 454.1L1100.0 455.5L1102.0 456.8L1104.0 458.0L1106.0 459.1L1108.0 460.0L1110.0 460.8L1112.0 461.5L1114.0 462.1L1116.0 462.5L1118.0 462.8L1120.0 463.0L1122.0 463.1L1124.0 463.0L1126.0 462.8L1128.0 462.5L1130.0 462.1L1132.0 461.6L1134.0 460.9L1136.0 460.1L1138.0 459.3L1140.0 458.3L1142.0 457.2L1144.0 456.0L1146.0 454.7L1148.0 453.2L1150.0 451.7L1152.0 450.1L1154.0 448.4L1156.0 446.5L1158.0 444.6L1160.0 442.6L1162.0 440.5L1164.0 438.3" fill="none" stroke="#1663d8" stroke-width="2.9" stroke-linejoin="round"/>
<path d="M682.0 385.6L684.0 385.2L686.0 384.6L688.0 384.1L690.0 383.5L692.0 382.9L694.0 382.2L696.0 381.5L698.0 380.8L700.0 380.2L702.0 379.4L704.0 378.7L706.0 378.0L708.0 377.3L710.0 376.6L712.0 376.0L714.0 375.3L716.0 374.7L718.0 374.1L720.0 373.5L722.0 373.0L724.0 372.5L726.0 372.0L728.0 371.6L730.0 371.2L732.0 370.8L734.0 370.5L736.0 370.2L738.0 370.0L740.0 369.7L742.0 369.5L744.0 369.4L746.0 369.2L748.0 369.1L750.0 369.1L752.0 369.0L754.0 369.0L756.0 369.0L758.0 369.0L760.0 369.0L762.0 369.0L764.0 369.0L766.0 369.0L768.0 369.0L770.0 369.0L772.0 369.0L774.0 368.9L776.0 368.8L778.0 368.7L780.0 368.5L782.0 368.2L784.0 368.0L786.0 367.6L788.0 367.2L790.0 366.8L792.0 366.2L794.0 365.6L796.0 364.9L798.0 364.2L800.0 363.3L802.0 362.3L804.0 361.3L806.0 360.1L808.0 358.8L810.0 357.5L812.0 356.0L814.0 354.5L816.0 352.9L818.0 351.1L820.0 349.3L822.0 347.4L824.0 345.5L826.0 343.4L828.0 341.3L830.0 339.1L832.0 336.8L834.0 334.5L836.0 332.1L838.0 329.6L840.0 327.1L842.0 324.5L844.0 321.9L846.0 319.2L848.0 316.5L850.0 313.8L852.0 311.0L854.0 308.2L856.0 305.4L858.0 302.5L860.0 299.7L862.0 296.8L864.0 294.0L866.0 291.2L868.0 288.4L870.0 285.6L872.0 282.8L874.0 280.1L876.0 277.4L878.0 274.7L880.0 272.1L882.0 269.5L884.0 267.0L886.0 264.5L888.0 262.1L890.0 259.8L892.0 257.5L894.0 255.4L896.0 253.3L898.0 251.3L900.0 249.4L902.0 247.6L904.0 245.9L906.0 244.3L908.0 242.8L910.0 241.4L912.0 240.1L914.0 238.9L916.0 237.9L918.0 236.9L920.0 236.1L922.0 235.4L924.0 234.8L926.0 234.4L928.0 234.1L930.0 233.9L932.0 233.8L934.0 233.9L936.0 234.1L938.0 234.4L940.0 234.8L942.0 235.5L944.0 236.2L946.0 237.1L948.0 238.1L950.0 239.2L952.0 240.5L954.0 241.9L956.0 243.5L958.0 245.1L960.0 246.9L962.0 248.8L964.0 250.8L966.0 253.0L968.0 255.2L970.0 257.5L972.0 260.0L974.0 262.6L976.0 265.2L978.0 268.0L980.0 270.8L982.0 273.7L984.0 276.7L986.0 279.8L988.0 283.0L990.0 286.2L992.0 289.4L994.0 292.7L996.0 296.1L998.0 299.5L1000.0 302.9L1002.0 306.4L1004.0 309.9L1006.0 313.4L1008.0 317.0L1010.0 320.5L1012.0 324.1L1014.0 327.6L1016.0 331.2L1018.0 334.7L1020.0 338.3L1022.0 341.8L1024.0 345.3L1026.0 348.8L1028.0 352.3L1030.0 355.8L1032.0 359.2L1034.0 362.6L1036.0 366.0L1038.0 369.3L1040.0 372.6L1042.0 375.9L1044.0 379.1L1046.0 382.2L1048.0 385.3L1050.0 388.4L1052.0 391.3L1054.0 394.3L1056.0 397.1L1058.0 399.9L1060.0 402.6L1062.0 405.3L1064.0 407.9L1066.0 410.4L1068.0 412.8L1070.0 415.2L1072.0 417.4L1074.0 419.6L1076.0 421.7L1078.0 423.8L1080.0 425.7L1082.0 427.5L1084.0 429.3L1086.0 430.9L1088.0 432.4L1090.0 433.8L1092.0 435.2L1094.0 436.3L1096.0 437.4L1098.0 438.4L1100.0 439.2L1102.0 439.9L1104.0 440.4L1106.0 440.8L1108.0 441.1L1110.0 441.2L1112.0 441.1L1114.0 441.0L1116.0 440.6L1118.0 440.2L1120.0 439.6L1122.0 438.9L1124.0 438.0L1126.0 437.1L1128.0 436.0L1130.0 434.8L1132.0 433.5L1134.0 432.2L1136.0 430.7L1138.0 429.2L1140.0 427.5L1142.0 425.8L1144.0 424.1L1146.0 422.2L1148.0 420.3L1150.0 418.4L1152.0 416.4L1154.0 414.3L1156.0 412.3L1158.0 410.1L1160.0 408.0L1162.0 405.8L1164.0 403.7" fill="none" stroke="#26a560" stroke-width="2.9" stroke-linejoin="round"/>
</g>
<text transform="translate(713.2,544)" font-size="20.2" text-anchor="middle">1.6</text>
<text transform="translate(773.5,544)" font-size="20.2" text-anchor="middle">1.7</text>
<text transform="translate(833.9,544)" font-size="20.2" text-anchor="middle">1.8</text>
<text transform="translate(894.2,544)" font-size="20.2" text-anchor="middle">1.9</text>
<text transform="translate(954.6,544)" font-size="20.2" text-anchor="middle">2.0</text>
<text transform="translate(1014.9,544)" font-size="20.2" text-anchor="middle">2.1</text>
<text transform="translate(1075.3,544)" font-size="20.2" text-anchor="middle">2.2</text>
<text transform="translate(1135.7,544)" font-size="20.2" text-anchor="middle">2.3</text>
<text transform="translate(923.5,580.4) scale(1.05,1)" font-size="25" text-anchor="middle"><tspan font-style="italic">r</tspan> (Å)</text>
<text transform="translate(664.2,325) rotate(-90) scale(1.04,1)" font-size="25" text-anchor="middle">G(<tspan font-style="italic">r</tspan>) (Å<tspan font-size="16.5" dy="-10">−2</tspan><tspan dy="10">)</tspan></text>
<text transform="translate(630.2,117.3) scale(1.035,1)" font-size="31" font-weight="bold">(b)</text>
<path d="M699.2 150.60H745.6" stroke="#484848" stroke-width="2.7"/>
<text transform="translate(751.0,157.4) scale(1.045,1)" font-size="19.6">SLTO</text>
<path d="M699.2 175.45H745.6" stroke="#f2353b" stroke-width="2.7"/>
<text transform="translate(751.0,182.2) scale(1.045,1)" font-size="19.6">SBLTO</text>
<path d="M699.2 200.30H745.6" stroke="#1663d8" stroke-width="2.7"/>
<text transform="translate(751.0,207.0) scale(1.045,1)" font-size="19.6">SBCLTO</text>
<path d="M699.2 225.15H745.6" stroke="#26a560" stroke-width="2.7"/>
<text transform="translate(751.0,231.8) scale(1.045,1)" font-size="19.6">SBCPLTO</text>
<path d="M790.7 438.4L748.2 431.1" stroke="#f2353b" stroke-width="2.5" stroke-linecap="round"/>
<path d="M732.8 428.5L749.0 426.4L747.4 435.9Z" fill="#f2353b"/>
<path d="M1051.3 512.7L1091.6 506.4" stroke="#f2353b" stroke-width="2.5" stroke-linecap="round"/>
<path d="M1107.0 504.0L1092.3 511.1L1090.8 501.7Z" fill="#f2353b"/>
</svg>
</body></html>
